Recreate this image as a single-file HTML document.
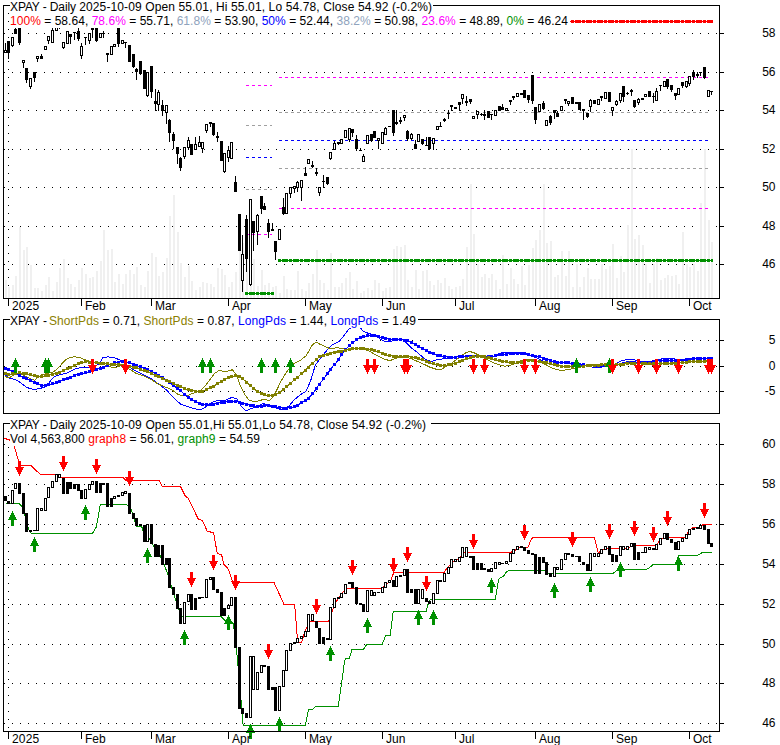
<!DOCTYPE html>
<html lang="en">
<head>
<meta charset="utf-8">
<title>XPAY - Daily</title>
<style>
html,body{margin:0;padding:0;background:#fff;}
body{width:780px;height:745px;overflow:hidden;}
svg{display:block;font-family:"Liberation Sans",Arial,sans-serif;font-size:12px;}
svg rect,svg path,svg polygon{shape-rendering:crispEdges;}
</style>
</head>
<body>
<svg width="780" height="745" viewBox="0 0 780 745">
<rect x="0" y="0" width="780" height="745" fill="#fff"/>
<line x1="4" x2="719" y1="33.5" y2="33.5" stroke="#000" stroke-dasharray="1 7" shape-rendering="crispEdges"/>
<rect x="719" y="33" width="5" height="1" fill="#000"/>
<line x1="4" x2="719" y1="72.5" y2="72.5" stroke="#000" stroke-dasharray="1 7" shape-rendering="crispEdges"/>
<rect x="719" y="72" width="5" height="1" fill="#000"/>
<line x1="4" x2="719" y1="110.5" y2="110.5" stroke="#000" stroke-dasharray="1 7" shape-rendering="crispEdges"/>
<rect x="719" y="110" width="5" height="1" fill="#000"/>
<line x1="4" x2="719" y1="149.5" y2="149.5" stroke="#000" stroke-dasharray="1 7" shape-rendering="crispEdges"/>
<rect x="719" y="149" width="5" height="1" fill="#000"/>
<line x1="4" x2="719" y1="187.5" y2="187.5" stroke="#000" stroke-dasharray="1 7" shape-rendering="crispEdges"/>
<rect x="719" y="187" width="5" height="1" fill="#000"/>
<line x1="4" x2="719" y1="226.5" y2="226.5" stroke="#000" stroke-dasharray="1 7" shape-rendering="crispEdges"/>
<rect x="719" y="226" width="5" height="1" fill="#000"/>
<line x1="4" x2="719" y1="264.5" y2="264.5" stroke="#000" stroke-dasharray="1 7" shape-rendering="crispEdges"/>
<rect x="719" y="264" width="5" height="1" fill="#000"/>
<line x1="8.5" x2="8.5" y1="13" y2="298" stroke="#000" stroke-dasharray="1 7" shape-rendering="crispEdges"/>
<rect x="5" y="280" width="2" height="18" fill="#f0f0f0"/>
<rect x="8" y="287" width="2" height="11" fill="#f0f0f0"/>
<rect x="12" y="285" width="2" height="13" fill="#f0f0f0"/>
<rect x="15" y="276" width="2" height="22" fill="#f0f0f0"/>
<rect x="19" y="227" width="2" height="71" fill="#f0f0f0"/>
<rect x="23" y="250" width="2" height="48" fill="#f0f0f0"/>
<rect x="26" y="247" width="2" height="51" fill="#f0f0f0"/>
<rect x="30" y="265" width="2" height="33" fill="#f0f0f0"/>
<rect x="34" y="288" width="2" height="10" fill="#f0f0f0"/>
<rect x="37" y="288" width="2" height="10" fill="#f0f0f0"/>
<rect x="41" y="291" width="2" height="7" fill="#f0f0f0"/>
<rect x="45" y="285" width="2" height="13" fill="#f0f0f0"/>
<rect x="48" y="277" width="2" height="21" fill="#f0f0f0"/>
<rect x="52" y="291" width="2" height="7" fill="#f0f0f0"/>
<rect x="56" y="282" width="2" height="16" fill="#f0f0f0"/>
<rect x="59" y="268" width="2" height="30" fill="#f0f0f0"/>
<rect x="63" y="259" width="2" height="39" fill="#f0f0f0"/>
<rect x="67" y="278" width="2" height="20" fill="#f0f0f0"/>
<rect x="70" y="284" width="2" height="14" fill="#f0f0f0"/>
<rect x="74" y="287" width="2" height="11" fill="#f0f0f0"/>
<rect x="78" y="280" width="2" height="18" fill="#f0f0f0"/>
<rect x="81" y="268" width="2" height="30" fill="#f0f0f0"/>
<rect x="85" y="274" width="2" height="24" fill="#f0f0f0"/>
<rect x="89" y="278" width="2" height="20" fill="#f0f0f0"/>
<rect x="92" y="277" width="2" height="21" fill="#f0f0f0"/>
<rect x="96" y="271" width="2" height="27" fill="#f0f0f0"/>
<rect x="100" y="261" width="2" height="37" fill="#f0f0f0"/>
<rect x="103" y="230" width="2" height="68" fill="#f0f0f0"/>
<rect x="107" y="250" width="2" height="48" fill="#f0f0f0"/>
<rect x="111" y="249" width="2" height="49" fill="#f0f0f0"/>
<rect x="114" y="282" width="2" height="16" fill="#f0f0f0"/>
<rect x="118" y="274" width="2" height="24" fill="#f0f0f0"/>
<rect x="122" y="284" width="2" height="14" fill="#f0f0f0"/>
<rect x="125" y="274" width="2" height="24" fill="#f0f0f0"/>
<rect x="129" y="270" width="2" height="28" fill="#f0f0f0"/>
<rect x="133" y="274" width="2" height="24" fill="#f0f0f0"/>
<rect x="136" y="267" width="2" height="31" fill="#f0f0f0"/>
<rect x="140" y="285" width="2" height="13" fill="#f0f0f0"/>
<rect x="144" y="287" width="2" height="11" fill="#f0f0f0"/>
<rect x="147" y="271" width="2" height="27" fill="#f0f0f0"/>
<rect x="151" y="253" width="2" height="45" fill="#f0f0f0"/>
<rect x="155" y="257" width="2" height="41" fill="#f0f0f0"/>
<rect x="158" y="276" width="2" height="22" fill="#f0f0f0"/>
<rect x="162" y="272" width="2" height="26" fill="#f0f0f0"/>
<rect x="166" y="258" width="2" height="40" fill="#f0f0f0"/>
<rect x="169" y="216" width="2" height="82" fill="#f0f0f0"/>
<rect x="173" y="195" width="2" height="103" fill="#f0f0f0"/>
<rect x="177" y="232" width="2" height="66" fill="#f0f0f0"/>
<rect x="180" y="263" width="2" height="35" fill="#f0f0f0"/>
<rect x="184" y="277" width="2" height="21" fill="#f0f0f0"/>
<rect x="188" y="266" width="2" height="32" fill="#f0f0f0"/>
<rect x="191" y="281" width="2" height="17" fill="#f0f0f0"/>
<rect x="195" y="290" width="2" height="8" fill="#f0f0f0"/>
<rect x="199" y="287" width="2" height="11" fill="#f0f0f0"/>
<rect x="202" y="282" width="2" height="16" fill="#f0f0f0"/>
<rect x="206" y="283" width="2" height="15" fill="#f0f0f0"/>
<rect x="210" y="284" width="2" height="14" fill="#f0f0f0"/>
<rect x="213" y="287" width="2" height="11" fill="#f0f0f0"/>
<rect x="217" y="268" width="2" height="30" fill="#f0f0f0"/>
<rect x="221" y="269" width="2" height="29" fill="#f0f0f0"/>
<rect x="224" y="275" width="2" height="23" fill="#f0f0f0"/>
<rect x="228" y="287" width="2" height="11" fill="#f0f0f0"/>
<rect x="231" y="282" width="2" height="16" fill="#f0f0f0"/>
<rect x="235" y="272" width="2" height="26" fill="#f0f0f0"/>
<rect x="239" y="251" width="2" height="47" fill="#f0f0f0"/>
<rect x="242" y="243" width="2" height="55" fill="#f0f0f0"/>
<rect x="246" y="238" width="2" height="60" fill="#f0f0f0"/>
<rect x="250" y="247" width="2" height="51" fill="#f0f0f0"/>
<rect x="253" y="259" width="2" height="39" fill="#f0f0f0"/>
<rect x="257" y="286" width="2" height="12" fill="#f0f0f0"/>
<rect x="261" y="270" width="2" height="28" fill="#f0f0f0"/>
<rect x="264" y="285" width="2" height="13" fill="#f0f0f0"/>
<rect x="268" y="283" width="2" height="15" fill="#f0f0f0"/>
<rect x="272" y="287" width="2" height="11" fill="#f0f0f0"/>
<rect x="275" y="286" width="2" height="12" fill="#f0f0f0"/>
<rect x="279" y="293" width="2" height="5" fill="#f0f0f0"/>
<rect x="283" y="276" width="2" height="22" fill="#f0f0f0"/>
<rect x="286" y="289" width="2" height="9" fill="#f0f0f0"/>
<rect x="290" y="290" width="2" height="8" fill="#f0f0f0"/>
<rect x="294" y="290" width="2" height="8" fill="#f0f0f0"/>
<rect x="297" y="271" width="2" height="27" fill="#f0f0f0"/>
<rect x="301" y="289" width="2" height="9" fill="#f0f0f0"/>
<rect x="305" y="291" width="2" height="7" fill="#f0f0f0"/>
<rect x="308" y="283" width="2" height="15" fill="#f0f0f0"/>
<rect x="312" y="274" width="2" height="24" fill="#f0f0f0"/>
<rect x="316" y="250" width="2" height="48" fill="#f0f0f0"/>
<rect x="319" y="280" width="2" height="18" fill="#f0f0f0"/>
<rect x="323" y="283" width="2" height="15" fill="#f0f0f0"/>
<rect x="327" y="290" width="2" height="8" fill="#f0f0f0"/>
<rect x="330" y="253" width="2" height="45" fill="#f0f0f0"/>
<rect x="334" y="287" width="2" height="11" fill="#f0f0f0"/>
<rect x="338" y="287" width="2" height="11" fill="#f0f0f0"/>
<rect x="341" y="283" width="2" height="15" fill="#f0f0f0"/>
<rect x="345" y="278" width="2" height="20" fill="#f0f0f0"/>
<rect x="349" y="272" width="2" height="26" fill="#f0f0f0"/>
<rect x="352" y="289" width="2" height="9" fill="#f0f0f0"/>
<rect x="356" y="281" width="2" height="17" fill="#f0f0f0"/>
<rect x="360" y="293" width="2" height="5" fill="#f0f0f0"/>
<rect x="363" y="291" width="2" height="7" fill="#f0f0f0"/>
<rect x="367" y="288" width="2" height="10" fill="#f0f0f0"/>
<rect x="371" y="290" width="2" height="8" fill="#f0f0f0"/>
<rect x="374" y="280" width="2" height="18" fill="#f0f0f0"/>
<rect x="378" y="283" width="2" height="15" fill="#f0f0f0"/>
<rect x="382" y="291" width="2" height="7" fill="#f0f0f0"/>
<rect x="385" y="288" width="2" height="10" fill="#f0f0f0"/>
<rect x="389" y="287" width="2" height="11" fill="#f0f0f0"/>
<rect x="393" y="249" width="2" height="49" fill="#f0f0f0"/>
<rect x="396" y="246" width="2" height="52" fill="#f0f0f0"/>
<rect x="400" y="247" width="2" height="51" fill="#f0f0f0"/>
<rect x="404" y="245" width="2" height="53" fill="#f0f0f0"/>
<rect x="407" y="280" width="2" height="18" fill="#f0f0f0"/>
<rect x="411" y="287" width="2" height="11" fill="#f0f0f0"/>
<rect x="415" y="270" width="2" height="28" fill="#f0f0f0"/>
<rect x="418" y="289" width="2" height="9" fill="#f0f0f0"/>
<rect x="422" y="271" width="2" height="27" fill="#f0f0f0"/>
<rect x="426" y="270" width="2" height="28" fill="#f0f0f0"/>
<rect x="429" y="281" width="2" height="17" fill="#f0f0f0"/>
<rect x="433" y="285" width="2" height="13" fill="#f0f0f0"/>
<rect x="437" y="280" width="2" height="18" fill="#f0f0f0"/>
<rect x="440" y="283" width="2" height="15" fill="#f0f0f0"/>
<rect x="444" y="278" width="2" height="20" fill="#f0f0f0"/>
<rect x="448" y="286" width="2" height="12" fill="#f0f0f0"/>
<rect x="451" y="289" width="2" height="9" fill="#f0f0f0"/>
<rect x="455" y="287" width="2" height="11" fill="#f0f0f0"/>
<rect x="459" y="286" width="2" height="12" fill="#f0f0f0"/>
<rect x="462" y="279" width="2" height="19" fill="#f0f0f0"/>
<rect x="466" y="247" width="2" height="51" fill="#f0f0f0"/>
<rect x="470" y="184" width="2" height="114" fill="#f0f0f0"/>
<rect x="473" y="234" width="2" height="64" fill="#f0f0f0"/>
<rect x="477" y="264" width="2" height="34" fill="#f0f0f0"/>
<rect x="481" y="277" width="2" height="21" fill="#f0f0f0"/>
<rect x="484" y="274" width="2" height="24" fill="#f0f0f0"/>
<rect x="488" y="278" width="2" height="20" fill="#f0f0f0"/>
<rect x="491" y="274" width="2" height="24" fill="#f0f0f0"/>
<rect x="495" y="280" width="2" height="18" fill="#f0f0f0"/>
<rect x="499" y="289" width="2" height="9" fill="#f0f0f0"/>
<rect x="502" y="255" width="2" height="43" fill="#f0f0f0"/>
<rect x="506" y="284" width="2" height="14" fill="#f0f0f0"/>
<rect x="510" y="268" width="2" height="30" fill="#f0f0f0"/>
<rect x="513" y="279" width="2" height="19" fill="#f0f0f0"/>
<rect x="517" y="284" width="2" height="14" fill="#f0f0f0"/>
<rect x="521" y="266" width="2" height="32" fill="#f0f0f0"/>
<rect x="524" y="285" width="2" height="13" fill="#f0f0f0"/>
<rect x="528" y="265" width="2" height="33" fill="#f0f0f0"/>
<rect x="532" y="248" width="2" height="50" fill="#f0f0f0"/>
<rect x="535" y="240" width="2" height="58" fill="#f0f0f0"/>
<rect x="539" y="230" width="2" height="68" fill="#f0f0f0"/>
<rect x="543" y="184" width="2" height="114" fill="#f0f0f0"/>
<rect x="546" y="243" width="2" height="55" fill="#f0f0f0"/>
<rect x="550" y="241" width="2" height="57" fill="#f0f0f0"/>
<rect x="554" y="277" width="2" height="21" fill="#f0f0f0"/>
<rect x="557" y="275" width="2" height="23" fill="#f0f0f0"/>
<rect x="561" y="251" width="2" height="47" fill="#f0f0f0"/>
<rect x="565" y="276" width="2" height="22" fill="#f0f0f0"/>
<rect x="568" y="251" width="2" height="47" fill="#f0f0f0"/>
<rect x="572" y="287" width="2" height="11" fill="#f0f0f0"/>
<rect x="576" y="264" width="2" height="34" fill="#f0f0f0"/>
<rect x="579" y="287" width="2" height="11" fill="#f0f0f0"/>
<rect x="583" y="277" width="2" height="21" fill="#f0f0f0"/>
<rect x="587" y="268" width="2" height="30" fill="#f0f0f0"/>
<rect x="590" y="279" width="2" height="19" fill="#f0f0f0"/>
<rect x="594" y="279" width="2" height="19" fill="#f0f0f0"/>
<rect x="598" y="279" width="2" height="19" fill="#f0f0f0"/>
<rect x="601" y="264" width="2" height="34" fill="#f0f0f0"/>
<rect x="605" y="269" width="2" height="29" fill="#f0f0f0"/>
<rect x="609" y="266" width="2" height="32" fill="#f0f0f0"/>
<rect x="612" y="244" width="2" height="54" fill="#f0f0f0"/>
<rect x="616" y="278" width="2" height="20" fill="#f0f0f0"/>
<rect x="620" y="256" width="2" height="42" fill="#f0f0f0"/>
<rect x="623" y="272" width="2" height="26" fill="#f0f0f0"/>
<rect x="627" y="225" width="2" height="73" fill="#f0f0f0"/>
<rect x="631" y="149" width="2" height="149" fill="#f0f0f0"/>
<rect x="634" y="239" width="2" height="59" fill="#f0f0f0"/>
<rect x="638" y="235" width="2" height="63" fill="#f0f0f0"/>
<rect x="642" y="245" width="2" height="53" fill="#f0f0f0"/>
<rect x="645" y="264" width="2" height="34" fill="#f0f0f0"/>
<rect x="649" y="283" width="2" height="15" fill="#f0f0f0"/>
<rect x="653" y="264" width="2" height="34" fill="#f0f0f0"/>
<rect x="656" y="258" width="2" height="40" fill="#f0f0f0"/>
<rect x="660" y="280" width="2" height="18" fill="#f0f0f0"/>
<rect x="664" y="278" width="2" height="20" fill="#f0f0f0"/>
<rect x="667" y="275" width="2" height="23" fill="#f0f0f0"/>
<rect x="671" y="276" width="2" height="22" fill="#f0f0f0"/>
<rect x="675" y="275" width="2" height="23" fill="#f0f0f0"/>
<rect x="678" y="284" width="2" height="14" fill="#f0f0f0"/>
<rect x="682" y="232" width="2" height="66" fill="#f0f0f0"/>
<rect x="686" y="264" width="2" height="34" fill="#f0f0f0"/>
<rect x="689" y="267" width="2" height="31" fill="#f0f0f0"/>
<rect x="693" y="264" width="2" height="34" fill="#f0f0f0"/>
<rect x="697" y="271" width="2" height="27" fill="#f0f0f0"/>
<rect x="700" y="203" width="2" height="95" fill="#f0f0f0"/>
<rect x="704" y="149" width="2" height="149" fill="#f0f0f0"/>
<rect x="708" y="220" width="2" height="78" fill="#f0f0f0"/>
<rect x="711" y="242" width="2" height="56" fill="#f0f0f0"/>
<line x1="279" x2="709" y1="77.5" y2="77.5" stroke="#ff00ff" stroke-dasharray="3 3" shape-rendering="crispEdges"/>
<line x1="279" x2="709" y1="112.5" y2="112.5" stroke="#a0a0a0" stroke-dasharray="3 3" shape-rendering="crispEdges"/>
<line x1="279" x2="709" y1="140.5" y2="140.5" stroke="#0000ff" stroke-dasharray="3 3" shape-rendering="crispEdges"/>
<line x1="279" x2="709" y1="168.5" y2="168.5" stroke="#a0a0a0" stroke-dasharray="3 3" shape-rendering="crispEdges"/>
<line x1="279" x2="709" y1="208.5" y2="208.5" stroke="#ff00ff" stroke-dasharray="3 3" shape-rendering="crispEdges"/>
<rect x="278" y="260" width="435" height="1" fill="#009000"/>
<rect x="278" y="259" width="3" height="3" fill="#009000"/>
<rect x="282" y="259" width="6" height="3" fill="#009000"/>
<rect x="289" y="259" width="3" height="3" fill="#009000"/>
<rect x="293" y="259" width="6" height="3" fill="#009000"/>
<rect x="300" y="259" width="3" height="3" fill="#009000"/>
<rect x="304" y="259" width="6" height="3" fill="#009000"/>
<rect x="311" y="259" width="3" height="3" fill="#009000"/>
<rect x="315" y="259" width="6" height="3" fill="#009000"/>
<rect x="322" y="259" width="3" height="3" fill="#009000"/>
<rect x="326" y="259" width="6" height="3" fill="#009000"/>
<rect x="333" y="259" width="3" height="3" fill="#009000"/>
<rect x="337" y="259" width="6" height="3" fill="#009000"/>
<rect x="344" y="259" width="3" height="3" fill="#009000"/>
<rect x="348" y="259" width="6" height="3" fill="#009000"/>
<rect x="355" y="259" width="3" height="3" fill="#009000"/>
<rect x="359" y="259" width="6" height="3" fill="#009000"/>
<rect x="366" y="259" width="3" height="3" fill="#009000"/>
<rect x="370" y="259" width="6" height="3" fill="#009000"/>
<rect x="377" y="259" width="3" height="3" fill="#009000"/>
<rect x="381" y="259" width="6" height="3" fill="#009000"/>
<rect x="388" y="259" width="3" height="3" fill="#009000"/>
<rect x="392" y="259" width="6" height="3" fill="#009000"/>
<rect x="399" y="259" width="3" height="3" fill="#009000"/>
<rect x="403" y="259" width="6" height="3" fill="#009000"/>
<rect x="410" y="259" width="3" height="3" fill="#009000"/>
<rect x="414" y="259" width="6" height="3" fill="#009000"/>
<rect x="421" y="259" width="3" height="3" fill="#009000"/>
<rect x="425" y="259" width="6" height="3" fill="#009000"/>
<rect x="432" y="259" width="3" height="3" fill="#009000"/>
<rect x="436" y="259" width="6" height="3" fill="#009000"/>
<rect x="443" y="259" width="3" height="3" fill="#009000"/>
<rect x="447" y="259" width="6" height="3" fill="#009000"/>
<rect x="454" y="259" width="3" height="3" fill="#009000"/>
<rect x="458" y="259" width="6" height="3" fill="#009000"/>
<rect x="465" y="259" width="3" height="3" fill="#009000"/>
<rect x="469" y="259" width="6" height="3" fill="#009000"/>
<rect x="476" y="259" width="3" height="3" fill="#009000"/>
<rect x="480" y="259" width="6" height="3" fill="#009000"/>
<rect x="487" y="259" width="3" height="3" fill="#009000"/>
<rect x="491" y="259" width="6" height="3" fill="#009000"/>
<rect x="498" y="259" width="3" height="3" fill="#009000"/>
<rect x="502" y="259" width="6" height="3" fill="#009000"/>
<rect x="509" y="259" width="3" height="3" fill="#009000"/>
<rect x="513" y="259" width="6" height="3" fill="#009000"/>
<rect x="520" y="259" width="3" height="3" fill="#009000"/>
<rect x="524" y="259" width="6" height="3" fill="#009000"/>
<rect x="531" y="259" width="3" height="3" fill="#009000"/>
<rect x="535" y="259" width="6" height="3" fill="#009000"/>
<rect x="542" y="259" width="3" height="3" fill="#009000"/>
<rect x="546" y="259" width="6" height="3" fill="#009000"/>
<rect x="553" y="259" width="3" height="3" fill="#009000"/>
<rect x="557" y="259" width="6" height="3" fill="#009000"/>
<rect x="564" y="259" width="3" height="3" fill="#009000"/>
<rect x="568" y="259" width="6" height="3" fill="#009000"/>
<rect x="575" y="259" width="3" height="3" fill="#009000"/>
<rect x="579" y="259" width="6" height="3" fill="#009000"/>
<rect x="586" y="259" width="3" height="3" fill="#009000"/>
<rect x="590" y="259" width="6" height="3" fill="#009000"/>
<rect x="597" y="259" width="3" height="3" fill="#009000"/>
<rect x="601" y="259" width="6" height="3" fill="#009000"/>
<rect x="608" y="259" width="3" height="3" fill="#009000"/>
<rect x="612" y="259" width="6" height="3" fill="#009000"/>
<rect x="619" y="259" width="3" height="3" fill="#009000"/>
<rect x="623" y="259" width="6" height="3" fill="#009000"/>
<rect x="630" y="259" width="3" height="3" fill="#009000"/>
<rect x="634" y="259" width="6" height="3" fill="#009000"/>
<rect x="641" y="259" width="3" height="3" fill="#009000"/>
<rect x="645" y="259" width="6" height="3" fill="#009000"/>
<rect x="652" y="259" width="3" height="3" fill="#009000"/>
<rect x="656" y="259" width="6" height="3" fill="#009000"/>
<rect x="663" y="259" width="3" height="3" fill="#009000"/>
<rect x="667" y="259" width="6" height="3" fill="#009000"/>
<rect x="674" y="259" width="3" height="3" fill="#009000"/>
<rect x="678" y="259" width="6" height="3" fill="#009000"/>
<rect x="685" y="259" width="3" height="3" fill="#009000"/>
<rect x="689" y="259" width="6" height="3" fill="#009000"/>
<rect x="696" y="259" width="3" height="3" fill="#009000"/>
<rect x="700" y="259" width="6" height="3" fill="#009000"/>
<rect x="707" y="259" width="3" height="3" fill="#009000"/>
<rect x="711" y="259" width="2" height="3" fill="#009000"/>
<line x1="246" x2="272" y1="85.5" y2="85.5" stroke="#ff00ff" stroke-dasharray="3 3" shape-rendering="crispEdges"/>
<line x1="246" x2="272" y1="125.5" y2="125.5" stroke="#a0a0a0" stroke-dasharray="3 3" shape-rendering="crispEdges"/>
<line x1="246" x2="272" y1="157.5" y2="157.5" stroke="#0000ff" stroke-dasharray="3 3" shape-rendering="crispEdges"/>
<line x1="246" x2="272" y1="189.5" y2="189.5" stroke="#a0a0a0" stroke-dasharray="3 3" shape-rendering="crispEdges"/>
<line x1="246" x2="272" y1="234.5" y2="234.5" stroke="#ff00ff" stroke-dasharray="3 3" shape-rendering="crispEdges"/>
<rect x="245" y="293" width="29" height="1" fill="#009000"/>
<rect x="245" y="292" width="3" height="3" fill="#009000"/>
<rect x="249" y="292" width="6" height="3" fill="#009000"/>
<rect x="256" y="292" width="3" height="3" fill="#009000"/>
<rect x="260" y="292" width="6" height="3" fill="#009000"/>
<rect x="267" y="292" width="3" height="3" fill="#009000"/>
<rect x="271" y="292" width="3" height="3" fill="#009000"/>
<rect x="5" y="43" width="1" height="7" fill="#000"/>
<rect x="4" y="50" width="3" height="3" fill="#000"/>
<rect x="5" y="51" width="1" height="1" fill="#fff"/>
<rect x="8" y="53" width="1" height="6" fill="#000"/>
<rect x="7" y="41" width="3" height="12" fill="#000"/>
<rect x="12" y="46" width="1" height="1" fill="#000"/>
<rect x="11" y="37" width="3" height="9" fill="#000"/>
<rect x="12" y="38" width="1" height="7" fill="#fff"/>
<rect x="15" y="28" width="1" height="1" fill="#000"/>
<rect x="14" y="29" width="3" height="5" fill="#000"/>
<rect x="19" y="43" width="1" height="2" fill="#000"/>
<rect x="18" y="28" width="3" height="15" fill="#000"/>
<rect x="23" y="63" width="1" height="5" fill="#000"/>
<rect x="22" y="60" width="3" height="3" fill="#000"/>
<rect x="23" y="61" width="1" height="1" fill="#fff"/>
<rect x="26" y="80" width="1" height="3" fill="#000"/>
<rect x="25" y="68" width="3" height="12" fill="#000"/>
<rect x="30" y="87" width="1" height="2" fill="#000"/>
<rect x="29" y="78" width="3" height="9" fill="#000"/>
<rect x="30" y="79" width="1" height="7" fill="#fff"/>
<rect x="34" y="78" width="1" height="4" fill="#000"/>
<rect x="33" y="72" width="3" height="6" fill="#000"/>
<rect x="37" y="59" width="1" height="3" fill="#000"/>
<rect x="36" y="56" width="3" height="3" fill="#000"/>
<rect x="37" y="57" width="1" height="1" fill="#fff"/>
<rect x="41" y="54" width="1" height="2" fill="#000"/>
<rect x="40" y="56" width="3" height="3" fill="#000"/>
<rect x="44" y="46" width="3" height="4" fill="#000"/>
<rect x="45" y="47" width="1" height="2" fill="#fff"/>
<rect x="48" y="41" width="1" height="3" fill="#000"/>
<rect x="47" y="36" width="3" height="5" fill="#000"/>
<rect x="48" y="37" width="1" height="3" fill="#fff"/>
<rect x="52" y="28" width="1" height="2" fill="#000"/>
<rect x="51" y="30" width="3" height="13" fill="#000"/>
<rect x="52" y="31" width="1" height="11" fill="#fff"/>
<rect x="55" y="24" width="3" height="7" fill="#000"/>
<rect x="56" y="25" width="1" height="5" fill="#fff"/>
<rect x="59" y="28" width="1" height="1" fill="#000"/>
<rect x="58" y="24" width="3" height="4" fill="#000"/>
<rect x="59" y="25" width="1" height="2" fill="#fff"/>
<rect x="63" y="48" width="1" height="1" fill="#000"/>
<rect x="62" y="42" width="3" height="6" fill="#000"/>
<rect x="63" y="43" width="1" height="4" fill="#fff"/>
<rect x="66" y="31" width="3" height="13" fill="#000"/>
<rect x="67" y="32" width="1" height="11" fill="#fff"/>
<rect x="70" y="37" width="1" height="7" fill="#000"/>
<rect x="69" y="34" width="3" height="3" fill="#000"/>
<rect x="74" y="33" width="1" height="7" fill="#000"/>
<rect x="73" y="32" width="3" height="1" fill="#000"/>
<rect x="78" y="28" width="1" height="3" fill="#000"/>
<rect x="78" y="39" width="1" height="2" fill="#000"/>
<rect x="77" y="31" width="3" height="8" fill="#000"/>
<rect x="81" y="43" width="1" height="3" fill="#000"/>
<rect x="81" y="56" width="1" height="3" fill="#000"/>
<rect x="80" y="46" width="3" height="10" fill="#000"/>
<rect x="81" y="47" width="1" height="8" fill="#fff"/>
<rect x="85" y="38" width="1" height="7" fill="#000"/>
<rect x="84" y="37" width="3" height="1" fill="#000"/>
<rect x="89" y="41" width="1" height="3" fill="#000"/>
<rect x="88" y="33" width="3" height="8" fill="#000"/>
<rect x="89" y="34" width="1" height="6" fill="#fff"/>
<rect x="92" y="30" width="1" height="8" fill="#000"/>
<rect x="91" y="28" width="3" height="2" fill="#000"/>
<rect x="96" y="41" width="1" height="1" fill="#000"/>
<rect x="95" y="28" width="3" height="13" fill="#000"/>
<rect x="99" y="33" width="3" height="5" fill="#000"/>
<rect x="100" y="34" width="1" height="3" fill="#fff"/>
<rect x="103" y="31" width="1" height="2" fill="#000"/>
<rect x="103" y="34" width="1" height="4" fill="#000"/>
<rect x="102" y="33" width="3" height="1" fill="#000"/>
<rect x="107" y="55" width="1" height="7" fill="#000"/>
<rect x="106" y="53" width="3" height="2" fill="#000"/>
<rect x="110" y="46" width="3" height="9" fill="#000"/>
<rect x="111" y="47" width="1" height="7" fill="#fff"/>
<rect x="113" y="44" width="3" height="3" fill="#000"/>
<rect x="114" y="45" width="1" height="1" fill="#fff"/>
<rect x="118" y="44" width="1" height="3" fill="#000"/>
<rect x="117" y="28" width="3" height="16" fill="#000"/>
<rect x="121" y="40" width="3" height="4" fill="#000"/>
<rect x="122" y="41" width="1" height="2" fill="#fff"/>
<rect x="125" y="43" width="1" height="5" fill="#000"/>
<rect x="124" y="42" width="3" height="1" fill="#000"/>
<rect x="128" y="45" width="3" height="17" fill="#000"/>
<rect x="133" y="67" width="1" height="1" fill="#000"/>
<rect x="132" y="54" width="3" height="13" fill="#000"/>
<rect x="136" y="68" width="1" height="1" fill="#000"/>
<rect x="136" y="72" width="1" height="8" fill="#000"/>
<rect x="135" y="69" width="3" height="3" fill="#000"/>
<rect x="140" y="74" width="1" height="1" fill="#000"/>
<rect x="139" y="61" width="3" height="13" fill="#000"/>
<rect x="143" y="70" width="3" height="19" fill="#000"/>
<rect x="147" y="96" width="1" height="1" fill="#000"/>
<rect x="146" y="72" width="3" height="24" fill="#000"/>
<rect x="147" y="73" width="1" height="22" fill="#fff"/>
<rect x="151" y="92" width="1" height="6" fill="#000"/>
<rect x="150" y="66" width="3" height="26" fill="#000"/>
<rect x="155" y="89" width="1" height="12" fill="#000"/>
<rect x="155" y="104" width="1" height="7" fill="#000"/>
<rect x="154" y="101" width="3" height="3" fill="#000"/>
<rect x="158" y="90" width="1" height="2" fill="#000"/>
<rect x="158" y="105" width="1" height="6" fill="#000"/>
<rect x="157" y="92" width="3" height="13" fill="#000"/>
<rect x="158" y="93" width="1" height="11" fill="#fff"/>
<rect x="162" y="100" width="1" height="5" fill="#000"/>
<rect x="162" y="111" width="1" height="5" fill="#000"/>
<rect x="161" y="105" width="3" height="6" fill="#000"/>
<rect x="166" y="113" width="1" height="11" fill="#000"/>
<rect x="165" y="105" width="3" height="8" fill="#000"/>
<rect x="166" y="106" width="1" height="6" fill="#fff"/>
<rect x="169" y="119" width="1" height="1" fill="#000"/>
<rect x="169" y="133" width="1" height="9" fill="#000"/>
<rect x="168" y="120" width="3" height="13" fill="#000"/>
<rect x="173" y="132" width="1" height="2" fill="#000"/>
<rect x="173" y="141" width="1" height="8" fill="#000"/>
<rect x="172" y="134" width="3" height="7" fill="#000"/>
<rect x="177" y="154" width="1" height="10" fill="#000"/>
<rect x="176" y="147" width="3" height="7" fill="#000"/>
<rect x="180" y="157" width="1" height="1" fill="#000"/>
<rect x="180" y="168" width="1" height="3" fill="#000"/>
<rect x="179" y="158" width="3" height="10" fill="#000"/>
<rect x="184" y="157" width="1" height="2" fill="#000"/>
<rect x="183" y="147" width="3" height="10" fill="#000"/>
<rect x="184" y="148" width="1" height="8" fill="#fff"/>
<rect x="188" y="137" width="1" height="3" fill="#000"/>
<rect x="188" y="148" width="1" height="2" fill="#000"/>
<rect x="187" y="140" width="3" height="8" fill="#000"/>
<rect x="188" y="141" width="1" height="6" fill="#fff"/>
<rect x="190" y="144" width="3" height="11" fill="#000"/>
<rect x="195" y="137" width="1" height="7" fill="#000"/>
<rect x="194" y="144" width="3" height="6" fill="#000"/>
<rect x="195" y="145" width="1" height="4" fill="#fff"/>
<rect x="199" y="136" width="1" height="6" fill="#000"/>
<rect x="198" y="142" width="3" height="5" fill="#000"/>
<rect x="199" y="143" width="1" height="3" fill="#fff"/>
<rect x="202" y="149" width="1" height="4" fill="#000"/>
<rect x="201" y="142" width="3" height="7" fill="#000"/>
<rect x="202" y="143" width="1" height="5" fill="#fff"/>
<rect x="206" y="131" width="1" height="2" fill="#000"/>
<rect x="205" y="124" width="3" height="7" fill="#000"/>
<rect x="206" y="125" width="1" height="5" fill="#fff"/>
<rect x="210" y="124" width="1" height="3" fill="#000"/>
<rect x="209" y="122" width="3" height="2" fill="#000"/>
<rect x="213" y="135" width="1" height="1" fill="#000"/>
<rect x="212" y="123" width="3" height="12" fill="#000"/>
<rect x="217" y="132" width="1" height="4" fill="#000"/>
<rect x="217" y="138" width="1" height="4" fill="#000"/>
<rect x="216" y="136" width="3" height="2" fill="#000"/>
<rect x="220" y="141" width="3" height="20" fill="#000"/>
<rect x="224" y="172" width="1" height="1" fill="#000"/>
<rect x="223" y="153" width="3" height="19" fill="#000"/>
<rect x="224" y="154" width="1" height="17" fill="#fff"/>
<rect x="228" y="146" width="1" height="4" fill="#000"/>
<rect x="228" y="158" width="1" height="4" fill="#000"/>
<rect x="227" y="150" width="3" height="8" fill="#000"/>
<rect x="228" y="151" width="1" height="6" fill="#fff"/>
<rect x="230" y="142" width="3" height="17" fill="#000"/>
<rect x="231" y="143" width="1" height="15" fill="#fff"/>
<rect x="235" y="176" width="1" height="6" fill="#000"/>
<rect x="234" y="182" width="3" height="10" fill="#000"/>
<rect x="238" y="214" width="3" height="37" fill="#000"/>
<rect x="242" y="235" width="1" height="19" fill="#000"/>
<rect x="242" y="281" width="1" height="11" fill="#000"/>
<rect x="241" y="254" width="3" height="27" fill="#000"/>
<rect x="242" y="255" width="1" height="25" fill="#fff"/>
<rect x="246" y="215" width="1" height="4" fill="#000"/>
<rect x="246" y="259" width="1" height="13" fill="#000"/>
<rect x="245" y="219" width="3" height="40" fill="#000"/>
<rect x="250" y="285" width="1" height="1" fill="#000"/>
<rect x="249" y="199" width="3" height="86" fill="#000"/>
<rect x="250" y="200" width="1" height="84" fill="#fff"/>
<rect x="253" y="233" width="1" height="18" fill="#000"/>
<rect x="252" y="221" width="3" height="12" fill="#000"/>
<rect x="257" y="214" width="1" height="1" fill="#000"/>
<rect x="257" y="232" width="1" height="13" fill="#000"/>
<rect x="256" y="215" width="3" height="17" fill="#000"/>
<rect x="257" y="216" width="1" height="15" fill="#fff"/>
<rect x="261" y="209" width="1" height="5" fill="#000"/>
<rect x="260" y="196" width="3" height="13" fill="#000"/>
<rect x="264" y="203" width="1" height="3" fill="#000"/>
<rect x="263" y="206" width="3" height="4" fill="#000"/>
<rect x="268" y="219" width="1" height="4" fill="#000"/>
<rect x="268" y="232" width="1" height="6" fill="#000"/>
<rect x="267" y="223" width="3" height="9" fill="#000"/>
<rect x="272" y="223" width="1" height="6" fill="#000"/>
<rect x="271" y="229" width="3" height="2" fill="#000"/>
<rect x="275" y="252" width="1" height="8" fill="#000"/>
<rect x="274" y="241" width="3" height="11" fill="#000"/>
<rect x="278" y="229" width="3" height="11" fill="#000"/>
<rect x="279" y="230" width="1" height="9" fill="#fff"/>
<rect x="283" y="198" width="1" height="9" fill="#000"/>
<rect x="283" y="214" width="1" height="1" fill="#000"/>
<rect x="282" y="207" width="3" height="7" fill="#000"/>
<rect x="285" y="193" width="3" height="21" fill="#000"/>
<rect x="286" y="194" width="1" height="19" fill="#fff"/>
<rect x="290" y="194" width="1" height="4" fill="#000"/>
<rect x="289" y="187" width="3" height="7" fill="#000"/>
<rect x="290" y="188" width="1" height="5" fill="#fff"/>
<rect x="294" y="189" width="1" height="4" fill="#000"/>
<rect x="293" y="186" width="3" height="3" fill="#000"/>
<rect x="294" y="187" width="1" height="1" fill="#fff"/>
<rect x="297" y="181" width="1" height="1" fill="#000"/>
<rect x="297" y="188" width="1" height="4" fill="#000"/>
<rect x="296" y="182" width="3" height="6" fill="#000"/>
<rect x="297" y="183" width="1" height="4" fill="#fff"/>
<rect x="301" y="188" width="1" height="13" fill="#000"/>
<rect x="300" y="180" width="3" height="8" fill="#000"/>
<rect x="301" y="181" width="1" height="6" fill="#fff"/>
<rect x="305" y="167" width="1" height="6" fill="#000"/>
<rect x="304" y="173" width="3" height="3" fill="#000"/>
<rect x="307" y="159" width="3" height="5" fill="#000"/>
<rect x="308" y="160" width="1" height="3" fill="#fff"/>
<rect x="312" y="161" width="1" height="4" fill="#000"/>
<rect x="312" y="167" width="1" height="1" fill="#000"/>
<rect x="311" y="165" width="3" height="2" fill="#000"/>
<rect x="316" y="168" width="1" height="4" fill="#000"/>
<rect x="316" y="174" width="1" height="2" fill="#000"/>
<rect x="315" y="172" width="3" height="2" fill="#000"/>
<rect x="319" y="193" width="1" height="3" fill="#000"/>
<rect x="318" y="187" width="3" height="6" fill="#000"/>
<rect x="319" y="188" width="1" height="4" fill="#fff"/>
<rect x="323" y="175" width="1" height="6" fill="#000"/>
<rect x="323" y="182" width="1" height="6" fill="#000"/>
<rect x="322" y="181" width="3" height="1" fill="#000"/>
<rect x="327" y="184" width="1" height="1" fill="#000"/>
<rect x="326" y="177" width="3" height="7" fill="#000"/>
<rect x="330" y="159" width="1" height="1" fill="#000"/>
<rect x="329" y="152" width="3" height="7" fill="#000"/>
<rect x="330" y="153" width="1" height="5" fill="#fff"/>
<rect x="334" y="141" width="1" height="2" fill="#000"/>
<rect x="333" y="143" width="3" height="7" fill="#000"/>
<rect x="334" y="144" width="1" height="5" fill="#fff"/>
<rect x="338" y="144" width="1" height="1" fill="#000"/>
<rect x="337" y="142" width="3" height="2" fill="#000"/>
<rect x="340" y="139" width="3" height="5" fill="#000"/>
<rect x="341" y="140" width="1" height="3" fill="#fff"/>
<rect x="344" y="130" width="3" height="8" fill="#000"/>
<rect x="345" y="131" width="1" height="6" fill="#fff"/>
<rect x="349" y="140" width="1" height="2" fill="#000"/>
<rect x="348" y="128" width="3" height="12" fill="#000"/>
<rect x="349" y="129" width="1" height="10" fill="#fff"/>
<rect x="352" y="133" width="1" height="4" fill="#000"/>
<rect x="351" y="129" width="3" height="4" fill="#000"/>
<rect x="356" y="135" width="1" height="4" fill="#000"/>
<rect x="356" y="149" width="1" height="2" fill="#000"/>
<rect x="355" y="139" width="3" height="10" fill="#000"/>
<rect x="360" y="148" width="1" height="2" fill="#000"/>
<rect x="359" y="150" width="3" height="1" fill="#000"/>
<rect x="363" y="154" width="1" height="2" fill="#000"/>
<rect x="362" y="156" width="3" height="6" fill="#000"/>
<rect x="363" y="157" width="1" height="4" fill="#fff"/>
<rect x="366" y="135" width="3" height="9" fill="#000"/>
<rect x="367" y="136" width="1" height="7" fill="#fff"/>
<rect x="371" y="141" width="1" height="1" fill="#000"/>
<rect x="370" y="134" width="3" height="7" fill="#000"/>
<rect x="373" y="131" width="3" height="7" fill="#000"/>
<rect x="378" y="141" width="1" height="8" fill="#000"/>
<rect x="377" y="138" width="3" height="3" fill="#000"/>
<rect x="378" y="139" width="1" height="1" fill="#fff"/>
<rect x="381" y="132" width="3" height="12" fill="#000"/>
<rect x="382" y="133" width="1" height="10" fill="#fff"/>
<rect x="385" y="127" width="1" height="1" fill="#000"/>
<rect x="384" y="128" width="3" height="7" fill="#000"/>
<rect x="385" y="129" width="1" height="5" fill="#fff"/>
<rect x="388" y="126" width="3" height="1" fill="#000"/>
<rect x="393" y="133" width="1" height="3" fill="#000"/>
<rect x="392" y="110" width="3" height="23" fill="#000"/>
<rect x="396" y="110" width="1" height="12" fill="#000"/>
<rect x="396" y="124" width="1" height="1" fill="#000"/>
<rect x="395" y="122" width="3" height="2" fill="#000"/>
<rect x="400" y="117" width="1" height="3" fill="#000"/>
<rect x="400" y="122" width="1" height="2" fill="#000"/>
<rect x="399" y="120" width="3" height="2" fill="#000"/>
<rect x="404" y="118" width="1" height="3" fill="#000"/>
<rect x="403" y="115" width="3" height="3" fill="#000"/>
<rect x="404" y="116" width="1" height="1" fill="#fff"/>
<rect x="407" y="130" width="1" height="1" fill="#000"/>
<rect x="407" y="139" width="1" height="2" fill="#000"/>
<rect x="406" y="131" width="3" height="8" fill="#000"/>
<rect x="411" y="133" width="1" height="1" fill="#000"/>
<rect x="411" y="139" width="1" height="1" fill="#000"/>
<rect x="410" y="134" width="3" height="5" fill="#000"/>
<rect x="411" y="135" width="1" height="3" fill="#fff"/>
<rect x="415" y="140" width="1" height="4" fill="#000"/>
<rect x="414" y="144" width="3" height="5" fill="#000"/>
<rect x="417" y="134" width="3" height="8" fill="#000"/>
<rect x="418" y="135" width="1" height="6" fill="#fff"/>
<rect x="422" y="144" width="1" height="1" fill="#000"/>
<rect x="421" y="139" width="3" height="5" fill="#000"/>
<rect x="426" y="137" width="1" height="8" fill="#000"/>
<rect x="425" y="145" width="3" height="1" fill="#000"/>
<rect x="429" y="149" width="1" height="1" fill="#000"/>
<rect x="428" y="137" width="3" height="12" fill="#000"/>
<rect x="433" y="144" width="1" height="6" fill="#000"/>
<rect x="432" y="138" width="3" height="6" fill="#000"/>
<rect x="433" y="139" width="1" height="4" fill="#fff"/>
<rect x="436" y="126" width="3" height="4" fill="#000"/>
<rect x="437" y="127" width="1" height="2" fill="#fff"/>
<rect x="440" y="122" width="1" height="4" fill="#000"/>
<rect x="439" y="126" width="3" height="1" fill="#000"/>
<rect x="444" y="118" width="1" height="1" fill="#000"/>
<rect x="444" y="121" width="1" height="1" fill="#000"/>
<rect x="443" y="119" width="3" height="2" fill="#000"/>
<rect x="448" y="110" width="1" height="3" fill="#000"/>
<rect x="448" y="114" width="1" height="5" fill="#000"/>
<rect x="447" y="113" width="3" height="1" fill="#000"/>
<rect x="451" y="107" width="1" height="4" fill="#000"/>
<rect x="450" y="105" width="3" height="2" fill="#000"/>
<rect x="454" y="107" width="3" height="2" fill="#000"/>
<rect x="459" y="105" width="1" height="6" fill="#000"/>
<rect x="458" y="102" width="3" height="3" fill="#000"/>
<rect x="462" y="99" width="1" height="5" fill="#000"/>
<rect x="461" y="94" width="3" height="5" fill="#000"/>
<rect x="462" y="95" width="1" height="3" fill="#fff"/>
<rect x="466" y="96" width="1" height="5" fill="#000"/>
<rect x="466" y="103" width="1" height="3" fill="#000"/>
<rect x="465" y="101" width="3" height="2" fill="#000"/>
<rect x="470" y="102" width="1" height="2" fill="#000"/>
<rect x="469" y="99" width="3" height="3" fill="#000"/>
<rect x="472" y="116" width="3" height="3" fill="#000"/>
<rect x="473" y="117" width="1" height="1" fill="#fff"/>
<rect x="477" y="115" width="1" height="4" fill="#000"/>
<rect x="476" y="111" width="3" height="4" fill="#000"/>
<rect x="477" y="112" width="1" height="2" fill="#fff"/>
<rect x="481" y="113" width="1" height="1" fill="#000"/>
<rect x="481" y="115" width="1" height="1" fill="#000"/>
<rect x="480" y="114" width="3" height="1" fill="#000"/>
<rect x="484" y="111" width="1" height="3" fill="#000"/>
<rect x="484" y="116" width="1" height="4" fill="#000"/>
<rect x="483" y="114" width="3" height="2" fill="#000"/>
<rect x="487" y="111" width="3" height="7" fill="#000"/>
<rect x="491" y="115" width="1" height="5" fill="#000"/>
<rect x="490" y="114" width="3" height="1" fill="#000"/>
<rect x="494" y="110" width="3" height="6" fill="#000"/>
<rect x="495" y="111" width="1" height="4" fill="#fff"/>
<rect x="498" y="106" width="3" height="5" fill="#000"/>
<rect x="502" y="104" width="1" height="3" fill="#000"/>
<rect x="501" y="107" width="3" height="3" fill="#000"/>
<rect x="505" y="108" width="3" height="3" fill="#000"/>
<rect x="506" y="109" width="1" height="1" fill="#fff"/>
<rect x="510" y="102" width="1" height="3" fill="#000"/>
<rect x="509" y="100" width="3" height="2" fill="#000"/>
<rect x="513" y="98" width="1" height="2" fill="#000"/>
<rect x="512" y="96" width="3" height="2" fill="#000"/>
<rect x="516" y="93" width="3" height="4" fill="#000"/>
<rect x="517" y="94" width="1" height="2" fill="#fff"/>
<rect x="520" y="93" width="3" height="2" fill="#000"/>
<rect x="523" y="90" width="3" height="8" fill="#000"/>
<rect x="528" y="100" width="1" height="3" fill="#000"/>
<rect x="527" y="95" width="3" height="5" fill="#000"/>
<rect x="532" y="101" width="1" height="3" fill="#000"/>
<rect x="531" y="75" width="3" height="26" fill="#000"/>
<rect x="535" y="120" width="1" height="4" fill="#000"/>
<rect x="534" y="107" width="3" height="13" fill="#000"/>
<rect x="538" y="104" width="3" height="8" fill="#000"/>
<rect x="539" y="105" width="1" height="6" fill="#fff"/>
<rect x="543" y="101" width="1" height="2" fill="#000"/>
<rect x="543" y="109" width="1" height="1" fill="#000"/>
<rect x="542" y="103" width="3" height="6" fill="#000"/>
<rect x="545" y="120" width="3" height="6" fill="#000"/>
<rect x="546" y="121" width="1" height="4" fill="#fff"/>
<rect x="550" y="115" width="1" height="1" fill="#000"/>
<rect x="550" y="123" width="1" height="2" fill="#000"/>
<rect x="549" y="116" width="3" height="7" fill="#000"/>
<rect x="554" y="113" width="1" height="6" fill="#000"/>
<rect x="553" y="110" width="3" height="3" fill="#000"/>
<rect x="557" y="111" width="1" height="2" fill="#000"/>
<rect x="556" y="113" width="3" height="4" fill="#000"/>
<rect x="560" y="106" width="3" height="5" fill="#000"/>
<rect x="561" y="107" width="1" height="3" fill="#fff"/>
<rect x="565" y="101" width="1" height="3" fill="#000"/>
<rect x="564" y="99" width="3" height="2" fill="#000"/>
<rect x="568" y="104" width="1" height="2" fill="#000"/>
<rect x="567" y="101" width="3" height="3" fill="#000"/>
<rect x="568" y="102" width="1" height="1" fill="#fff"/>
<rect x="571" y="97" width="3" height="7" fill="#000"/>
<rect x="575" y="102" width="3" height="2" fill="#000"/>
<rect x="578" y="102" width="3" height="8" fill="#000"/>
<rect x="583" y="111" width="1" height="9" fill="#000"/>
<rect x="582" y="109" width="3" height="2" fill="#000"/>
<rect x="587" y="117" width="1" height="1" fill="#000"/>
<rect x="586" y="113" width="3" height="4" fill="#000"/>
<rect x="590" y="99" width="1" height="1" fill="#000"/>
<rect x="590" y="107" width="1" height="5" fill="#000"/>
<rect x="589" y="100" width="3" height="7" fill="#000"/>
<rect x="590" y="101" width="1" height="5" fill="#fff"/>
<rect x="593" y="100" width="3" height="4" fill="#000"/>
<rect x="597" y="99" width="3" height="6" fill="#000"/>
<rect x="598" y="100" width="1" height="4" fill="#fff"/>
<rect x="601" y="98" width="1" height="3" fill="#000"/>
<rect x="600" y="96" width="3" height="2" fill="#000"/>
<rect x="604" y="92" width="3" height="7" fill="#000"/>
<rect x="605" y="93" width="1" height="5" fill="#fff"/>
<rect x="608" y="92" width="3" height="10" fill="#000"/>
<rect x="612" y="111" width="1" height="5" fill="#000"/>
<rect x="611" y="107" width="3" height="4" fill="#000"/>
<rect x="612" y="108" width="1" height="2" fill="#fff"/>
<rect x="616" y="100" width="1" height="1" fill="#000"/>
<rect x="616" y="105" width="1" height="1" fill="#000"/>
<rect x="615" y="101" width="3" height="4" fill="#000"/>
<rect x="616" y="102" width="1" height="2" fill="#fff"/>
<rect x="620" y="101" width="1" height="2" fill="#000"/>
<rect x="619" y="93" width="3" height="8" fill="#000"/>
<rect x="620" y="94" width="1" height="6" fill="#fff"/>
<rect x="623" y="97" width="1" height="5" fill="#000"/>
<rect x="622" y="86" width="3" height="11" fill="#000"/>
<rect x="627" y="92" width="1" height="1" fill="#000"/>
<rect x="627" y="94" width="1" height="1" fill="#000"/>
<rect x="626" y="93" width="3" height="1" fill="#000"/>
<rect x="631" y="89" width="1" height="1" fill="#000"/>
<rect x="631" y="92" width="1" height="4" fill="#000"/>
<rect x="630" y="90" width="3" height="2" fill="#000"/>
<rect x="634" y="107" width="1" height="1" fill="#000"/>
<rect x="633" y="100" width="3" height="7" fill="#000"/>
<rect x="638" y="98" width="1" height="1" fill="#000"/>
<rect x="638" y="103" width="1" height="2" fill="#000"/>
<rect x="637" y="99" width="3" height="4" fill="#000"/>
<rect x="638" y="100" width="1" height="2" fill="#fff"/>
<rect x="641" y="98" width="3" height="2" fill="#000"/>
<rect x="644" y="94" width="3" height="3" fill="#000"/>
<rect x="645" y="95" width="1" height="1" fill="#fff"/>
<rect x="648" y="91" width="3" height="6" fill="#000"/>
<rect x="653" y="93" width="1" height="3" fill="#000"/>
<rect x="653" y="97" width="1" height="6" fill="#000"/>
<rect x="652" y="96" width="3" height="1" fill="#000"/>
<rect x="656" y="88" width="1" height="3" fill="#000"/>
<rect x="655" y="91" width="3" height="10" fill="#000"/>
<rect x="656" y="92" width="1" height="8" fill="#fff"/>
<rect x="660" y="86" width="1" height="5" fill="#000"/>
<rect x="659" y="85" width="3" height="1" fill="#000"/>
<rect x="663" y="81" width="3" height="6" fill="#000"/>
<rect x="664" y="82" width="1" height="4" fill="#fff"/>
<rect x="667" y="87" width="1" height="2" fill="#000"/>
<rect x="666" y="79" width="3" height="8" fill="#000"/>
<rect x="671" y="90" width="1" height="2" fill="#000"/>
<rect x="670" y="85" width="3" height="5" fill="#000"/>
<rect x="675" y="96" width="1" height="4" fill="#000"/>
<rect x="674" y="93" width="3" height="3" fill="#000"/>
<rect x="677" y="88" width="3" height="7" fill="#000"/>
<rect x="678" y="89" width="1" height="5" fill="#fff"/>
<rect x="682" y="86" width="1" height="2" fill="#000"/>
<rect x="681" y="82" width="3" height="4" fill="#000"/>
<rect x="686" y="87" width="1" height="1" fill="#000"/>
<rect x="685" y="81" width="3" height="6" fill="#000"/>
<rect x="686" y="82" width="1" height="4" fill="#fff"/>
<rect x="689" y="84" width="1" height="2" fill="#000"/>
<rect x="688" y="76" width="3" height="8" fill="#000"/>
<rect x="689" y="77" width="1" height="6" fill="#fff"/>
<rect x="693" y="70" width="1" height="2" fill="#000"/>
<rect x="693" y="77" width="1" height="3" fill="#000"/>
<rect x="692" y="72" width="3" height="5" fill="#000"/>
<rect x="697" y="72" width="1" height="2" fill="#000"/>
<rect x="697" y="76" width="1" height="2" fill="#000"/>
<rect x="696" y="74" width="3" height="2" fill="#000"/>
<rect x="700" y="73" width="1" height="3" fill="#000"/>
<rect x="699" y="72" width="3" height="1" fill="#000"/>
<rect x="704" y="78" width="1" height="1" fill="#000"/>
<rect x="703" y="67" width="3" height="11" fill="#000"/>
<rect x="707" y="90" width="3" height="7" fill="#000"/>
<rect x="708" y="91" width="1" height="5" fill="#fff"/>
<rect x="711" y="92" width="1" height="3" fill="#000"/>
<rect x="710" y="91" width="3" height="1" fill="#000"/>
<rect x="3" y="5" width="1" height="294" fill="#000"/>
<rect x="719" y="5" width="1" height="294" fill="#000"/>
<rect x="3" y="298" width="717" height="1" fill="#000"/>
<rect x="3" y="5" width="8" height="1" fill="#000"/>
<rect x="433" y="5" width="287" height="1" fill="#000"/>
<rect x="8" y="298" width="1" height="8" fill="#000"/>
<text x="12" y="310" fill="#000" text-anchor="start" textLength="27.2">2025</text>
<rect x="81" y="298" width="1" height="8" fill="#000"/>
<text x="85" y="310" fill="#000" text-anchor="start">Feb</text>
<rect x="151" y="298" width="1" height="8" fill="#000"/>
<text x="155" y="310" fill="#000" text-anchor="start">Mar</text>
<rect x="228" y="298" width="1" height="8" fill="#000"/>
<text x="232" y="310" fill="#000" text-anchor="start">Apr</text>
<rect x="305" y="298" width="1" height="8" fill="#000"/>
<text x="309" y="310" fill="#000" text-anchor="start">May</text>
<rect x="382" y="298" width="1" height="8" fill="#000"/>
<text x="386" y="310" fill="#000" text-anchor="start">Jun</text>
<rect x="455" y="298" width="1" height="8" fill="#000"/>
<text x="459" y="310" fill="#000" text-anchor="start">Jul</text>
<rect x="535" y="298" width="1" height="8" fill="#000"/>
<text x="539" y="310" fill="#000" text-anchor="start">Aug</text>
<rect x="612" y="298" width="1" height="8" fill="#000"/>
<text x="616" y="310" fill="#000" text-anchor="start">Sep</text>
<rect x="689" y="298" width="1" height="8" fill="#000"/>
<text x="693" y="310" fill="#000" text-anchor="start">Oct</text>
<text x="775.5" y="37" fill="#000" text-anchor="end">58</text>
<text x="775.5" y="76" fill="#000" text-anchor="end">56</text>
<text x="775.5" y="114" fill="#000" text-anchor="end">54</text>
<text x="775.5" y="153" fill="#000" text-anchor="end">52</text>
<text x="775.5" y="191" fill="#000" text-anchor="end">50</text>
<text x="775.5" y="230" fill="#000" text-anchor="end">48</text>
<text x="775.5" y="268" fill="#000" text-anchor="end">46</text>
<line x1="4" x2="719" y1="340.5" y2="340.5" stroke="#000" stroke-dasharray="1 7" shape-rendering="crispEdges"/>
<rect x="719" y="340" width="5" height="1" fill="#000"/>
<line x1="4" x2="719" y1="366.5" y2="366.5" stroke="#000" stroke-dasharray="1 7" shape-rendering="crispEdges"/>
<rect x="719" y="366" width="5" height="1" fill="#000"/>
<line x1="4" x2="719" y1="391.5" y2="391.5" stroke="#000" stroke-dasharray="1 7" shape-rendering="crispEdges"/>
<rect x="719" y="391" width="5" height="1" fill="#000"/>
<polyline points="4.6,374.2 9.2,378 17,380.3 21.5,383.4 26.2,387.2 30.8,388.8 34.6,389.5 38.5,388.8 44.6,387.2 47.7,384.9 50.8,380.3 54.6,376.5 61.5,374.2 66.2,373.4 70.8,371.1 75.4,368.8 80,367.7 89.2,367.2 92.3,367.7 95.4,366.5 100,362.6 103,357.5 107.7,356.9 113.8,357.5 116.2,358.5 120.8,360.3 127,364.9 133,369.5 140.8,373.4 148.5,377.2 154.6,381 160.8,385.7 167,390.3 171.5,395.7 176.2,400.3 180.8,404.2 187,406.5 193,408.3 199.2,410 203.8,408.3 208.5,404.9 213,401.8 217.7,400.6 223.8,400.3 226.2,400 232.3,397.2 237,399.1 241.5,406.5 246.2,411 250.8,408.8 257,406.5 263,403.4 267.7,404.9 273.8,407.2 280,409.5 284.6,409.5 289.2,405.7 293.8,400.3 300,394.9 306.2,391.1 310.8,380.3 315.4,364.9 320,358.8 326.2,351.1 332.3,344.9 339.2,341.5 343.8,335.7 348.5,329.5 352,327.5 358,327 361,328.5 363,331 368.5,333.4 376.2,335.7 380.8,339.5 385.4,341.8 391.5,341.1 397.7,339.5 403.8,340 407,343.4 411.5,348 417.7,352.6 422.3,356.9 427,360.3 431.5,361.5 437.7,359.5 443.8,358.8 446.2,358.8 452.3,357.2 460,356.5 467.7,355.7 475.4,355.7 483,356.5 490.8,357.2 497,354.9 501.5,352.6 509.2,352.3 517,352.6 524.6,352.6 530.8,355.7 537,358 543,361.1 549.2,364.2 555.4,364.9 557.7,362.2 565.4,362.2 573,363.7 580.8,364.9 588.5,366.5 596.2,367.7 600.8,367.2 607,365.7 614.6,364.2 620.8,361.1 627,359.5 633,359.5 639.2,361.1 645.4,362.2 651.5,361.1 657.7,359.5 663.8,358.5 670,358.5 680,359.5 690,358.5 700,358.2 712,358.2" fill="none" stroke="#0000ff" stroke-width="1" shape-rendering="crispEdges"/>
<polyline points="4.6,375.7 7.7,378 10.8,376.9 15.4,374.2 20,373.8 26.2,376.5 30.8,378.8 34.6,380.3 37.7,377.5 41.5,374.9 47.7,373.4 53.8,371.8 57.7,368.3 61.5,364.2 66.2,359.5 70,357.2 75.4,356.9 80,357.5 83.8,359.5 89.2,361.1 95.4,362.2 101.5,363.7 107.7,366.2 112.3,367.4 116.2,367.2 120.8,365.7 125.4,366.5 130,369.5 136.2,373.4 143.8,376 150,378.8 157.7,383.7 163.8,386.5 171.5,389.5 177.7,394.2 182.3,395.7 188.5,395.2 194.6,392.6 200.8,390.3 205.4,385.7 210,379.5 214.6,373.4 219.2,370.3 223.8,371.4 226.2,371.4 232.3,369.8 236.2,374.2 240,384.9 244.6,394.2 249.2,400.3 255.4,401.8 261.5,400 264.6,399.1 269.2,401.1 273,397.2 277,389.5 281.5,380.3 287.7,370.3 293.8,363.7 300,360.6 306.2,355.7 312.3,344.9 316.2,342.2 320,344.2 326.2,347.2 330.8,348.8 336.2,347.7 342.3,348.3 348.5,349.5 354.6,348.8 360.8,348.8 367,349.5 373,353.4 379.2,356.5 385.4,359.5 390,360.6 394.6,358.8 399.2,357.2 405.4,356.9 411.5,358.8 417.7,361.5 423.8,364.2 430,367.2 436.2,369.2 440.8,369.5 446.2,366.5 452.3,362.6 458.5,358 464.6,353.4 469.2,351.4 473.8,352.6 480,355.7 486.2,358.8 492.3,362.2 498.5,364.6 504.6,366.2 509.2,365.7 515.4,363.4 521.5,360.6 527.7,359.5 533.8,360.3 540,362.2 546.2,364.9 552.3,368 557,369.8 562.3,370.3 568.5,369.5 574.6,368.3 582.3,366.5 590,364.9 596.2,364.2 603.8,364.2 611.5,364.9 619.2,364.2 625.4,362.2 630,361.1 636.2,362.6 642.3,364.2 650,364.2 657.7,363.4 670,363.1 690,362 712,361" fill="none" stroke="#808000" stroke-width="1" shape-rendering="crispEdges"/>
<polyline points="4.6,367.8 9.2,370.1 15.4,373.2 23,377.1 30.8,380.9 37,383.6 43,385.5 47.7,385.2 52.3,384 61.5,380.6 69.2,377.5 77,374.8 86.2,372.4 92.3,370.9 98.5,368.9 104.6,366.8 110.8,364.3 116.2,362.4 123.8,361.4 130,362.8 134.6,364.8 140.8,367.1 148.5,370.4 156.2,374 163.8,378.6 171.5,384 177.7,388.6 182.3,392.4 187,396.3 193,400.1 199.2,403.2 205.4,404.8 210,404.8 216.2,403.4 222.3,402.4 226.2,401.7 233.8,401.2 240,402.4 246.2,404.3 252.3,405.8 258.5,406.8 264.6,405.5 272.3,406.3 278.5,407.4 284.6,408.3 290.8,407.8 297,405.5 303,402.1 309.2,397.5 313.8,392.4 318.5,385.5 323,379.4 327.7,373.2 332.3,367.1 337,361.6 339.2,357.8 343.8,351.7 348.5,346.3 353,342.4 357.7,339.1 362.3,336.6 368.5,335.5 376.2,336 382.3,337.8 390,339.4 397.7,339.8 405.4,340.1 411.5,342.1 417.7,345.5 423.8,349.4 430,352.4 436.2,354.8 442.3,356.3 447.7,357.1 455.4,357.1 463,356.6 470.8,356.3 478.5,356.6 486.2,357.1 493.8,356.6 500,354.4 507.7,354 517,353.7 524.6,354 532.3,355.5 540,357.1 547.7,359.7 553.8,361.6 557.7,362.1 565.4,362.8 573,363.2 580.8,364.3 588.5,365.5 596.2,366.3 603.8,365.8 611.5,365.5 619.2,364.3 627,362.8 634.6,362.1 642.3,362.8 650,362.6 653.8,361.9 660.8,360.4 668.8,360.4 677,360.8 683.8,360.4 690.7,359.3 697.7,358.5 704.6,358.5 712.7,358.5" fill="none" stroke="#0000ff" stroke-width="1" shape-rendering="crispEdges"/>
<rect x="4" y="367" width="3" height="3" fill="#0000ff"/>
<rect x="7" y="368" width="3" height="3" fill="#0000ff"/>
<rect x="11" y="370" width="3" height="3" fill="#0000ff"/>
<rect x="14" y="372" width="3" height="3" fill="#0000ff"/>
<rect x="18" y="374" width="3" height="3" fill="#0000ff"/>
<rect x="22" y="376" width="3" height="3" fill="#0000ff"/>
<rect x="25" y="377" width="3" height="3" fill="#0000ff"/>
<rect x="29" y="379" width="3" height="3" fill="#0000ff"/>
<rect x="33" y="381" width="3" height="3" fill="#0000ff"/>
<rect x="36" y="382" width="3" height="3" fill="#0000ff"/>
<rect x="40" y="384" width="3" height="3" fill="#0000ff"/>
<rect x="44" y="384" width="3" height="3" fill="#0000ff"/>
<rect x="47" y="383" width="3" height="3" fill="#0000ff"/>
<rect x="51" y="382" width="3" height="3" fill="#0000ff"/>
<rect x="55" y="381" width="3" height="3" fill="#0000ff"/>
<rect x="58" y="380" width="3" height="3" fill="#0000ff"/>
<rect x="62" y="378" width="3" height="3" fill="#0000ff"/>
<rect x="66" y="377" width="3" height="3" fill="#0000ff"/>
<rect x="69" y="376" width="3" height="3" fill="#0000ff"/>
<rect x="73" y="374" width="3" height="3" fill="#0000ff"/>
<rect x="77" y="373" width="3" height="3" fill="#0000ff"/>
<rect x="80" y="372" width="3" height="3" fill="#0000ff"/>
<rect x="84" y="371" width="3" height="3" fill="#0000ff"/>
<rect x="88" y="370" width="3" height="3" fill="#0000ff"/>
<rect x="91" y="369" width="3" height="3" fill="#0000ff"/>
<rect x="95" y="368" width="3" height="3" fill="#0000ff"/>
<rect x="99" y="367" width="3" height="3" fill="#0000ff"/>
<rect x="102" y="366" width="3" height="3" fill="#0000ff"/>
<rect x="106" y="364" width="3" height="3" fill="#0000ff"/>
<rect x="110" y="363" width="3" height="3" fill="#0000ff"/>
<rect x="113" y="361" width="3" height="3" fill="#0000ff"/>
<rect x="117" y="361" width="3" height="3" fill="#0000ff"/>
<rect x="121" y="360" width="3" height="3" fill="#0000ff"/>
<rect x="124" y="360" width="3" height="3" fill="#0000ff"/>
<rect x="128" y="361" width="3" height="3" fill="#0000ff"/>
<rect x="132" y="363" width="3" height="3" fill="#0000ff"/>
<rect x="135" y="364" width="3" height="3" fill="#0000ff"/>
<rect x="139" y="365" width="3" height="3" fill="#0000ff"/>
<rect x="143" y="367" width="3" height="3" fill="#0000ff"/>
<rect x="146" y="368" width="3" height="3" fill="#0000ff"/>
<rect x="150" y="370" width="3" height="3" fill="#0000ff"/>
<rect x="154" y="372" width="3" height="3" fill="#0000ff"/>
<rect x="157" y="374" width="3" height="3" fill="#0000ff"/>
<rect x="161" y="376" width="3" height="3" fill="#0000ff"/>
<rect x="165" y="379" width="3" height="3" fill="#0000ff"/>
<rect x="168" y="381" width="3" height="3" fill="#0000ff"/>
<rect x="172" y="384" width="3" height="3" fill="#0000ff"/>
<rect x="176" y="387" width="3" height="3" fill="#0000ff"/>
<rect x="179" y="389" width="3" height="3" fill="#0000ff"/>
<rect x="183" y="393" width="3" height="3" fill="#0000ff"/>
<rect x="187" y="396" width="3" height="3" fill="#0000ff"/>
<rect x="190" y="398" width="3" height="3" fill="#0000ff"/>
<rect x="194" y="400" width="3" height="3" fill="#0000ff"/>
<rect x="198" y="402" width="3" height="3" fill="#0000ff"/>
<rect x="201" y="403" width="3" height="3" fill="#0000ff"/>
<rect x="205" y="403" width="3" height="3" fill="#0000ff"/>
<rect x="209" y="403" width="3" height="3" fill="#0000ff"/>
<rect x="212" y="403" width="3" height="3" fill="#0000ff"/>
<rect x="216" y="402" width="3" height="3" fill="#0000ff"/>
<rect x="220" y="401" width="3" height="3" fill="#0000ff"/>
<rect x="223" y="401" width="3" height="3" fill="#0000ff"/>
<rect x="227" y="400" width="3" height="3" fill="#0000ff"/>
<rect x="230" y="400" width="3" height="3" fill="#0000ff"/>
<rect x="234" y="400" width="3" height="3" fill="#0000ff"/>
<rect x="238" y="401" width="3" height="3" fill="#0000ff"/>
<rect x="241" y="402" width="3" height="3" fill="#0000ff"/>
<rect x="245" y="403" width="3" height="3" fill="#0000ff"/>
<rect x="249" y="404" width="3" height="3" fill="#0000ff"/>
<rect x="252" y="404" width="3" height="3" fill="#0000ff"/>
<rect x="256" y="405" width="3" height="3" fill="#0000ff"/>
<rect x="260" y="405" width="3" height="3" fill="#0000ff"/>
<rect x="263" y="404" width="3" height="3" fill="#0000ff"/>
<rect x="267" y="404" width="3" height="3" fill="#0000ff"/>
<rect x="271" y="405" width="3" height="3" fill="#0000ff"/>
<rect x="274" y="405" width="3" height="3" fill="#0000ff"/>
<rect x="278" y="406" width="3" height="3" fill="#0000ff"/>
<rect x="282" y="407" width="3" height="3" fill="#0000ff"/>
<rect x="285" y="407" width="3" height="3" fill="#0000ff"/>
<rect x="289" y="406" width="3" height="3" fill="#0000ff"/>
<rect x="293" y="405" width="3" height="3" fill="#0000ff"/>
<rect x="296" y="404" width="3" height="3" fill="#0000ff"/>
<rect x="300" y="401" width="3" height="3" fill="#0000ff"/>
<rect x="304" y="399" width="3" height="3" fill="#0000ff"/>
<rect x="307" y="397" width="3" height="3" fill="#0000ff"/>
<rect x="311" y="392" width="3" height="3" fill="#0000ff"/>
<rect x="315" y="387" width="3" height="3" fill="#0000ff"/>
<rect x="318" y="383" width="3" height="3" fill="#0000ff"/>
<rect x="322" y="377" width="3" height="3" fill="#0000ff"/>
<rect x="326" y="372" width="3" height="3" fill="#0000ff"/>
<rect x="329" y="368" width="3" height="3" fill="#0000ff"/>
<rect x="333" y="363" width="3" height="3" fill="#0000ff"/>
<rect x="337" y="358" width="3" height="3" fill="#0000ff"/>
<rect x="340" y="353" width="3" height="3" fill="#0000ff"/>
<rect x="344" y="348" width="3" height="3" fill="#0000ff"/>
<rect x="348" y="344" width="3" height="3" fill="#0000ff"/>
<rect x="351" y="341" width="3" height="3" fill="#0000ff"/>
<rect x="355" y="338" width="3" height="3" fill="#0000ff"/>
<rect x="359" y="336" width="3" height="3" fill="#0000ff"/>
<rect x="362" y="335" width="3" height="3" fill="#0000ff"/>
<rect x="366" y="334" width="3" height="3" fill="#0000ff"/>
<rect x="370" y="334" width="3" height="3" fill="#0000ff"/>
<rect x="373" y="334" width="3" height="3" fill="#0000ff"/>
<rect x="377" y="335" width="3" height="3" fill="#0000ff"/>
<rect x="381" y="336" width="3" height="3" fill="#0000ff"/>
<rect x="384" y="337" width="3" height="3" fill="#0000ff"/>
<rect x="388" y="338" width="3" height="3" fill="#0000ff"/>
<rect x="392" y="338" width="3" height="3" fill="#0000ff"/>
<rect x="395" y="338" width="3" height="3" fill="#0000ff"/>
<rect x="399" y="338" width="3" height="3" fill="#0000ff"/>
<rect x="403" y="339" width="3" height="3" fill="#0000ff"/>
<rect x="406" y="339" width="3" height="3" fill="#0000ff"/>
<rect x="410" y="341" width="3" height="3" fill="#0000ff"/>
<rect x="414" y="343" width="3" height="3" fill="#0000ff"/>
<rect x="417" y="345" width="3" height="3" fill="#0000ff"/>
<rect x="421" y="347" width="3" height="3" fill="#0000ff"/>
<rect x="425" y="349" width="3" height="3" fill="#0000ff"/>
<rect x="428" y="351" width="3" height="3" fill="#0000ff"/>
<rect x="432" y="352" width="3" height="3" fill="#0000ff"/>
<rect x="436" y="354" width="3" height="3" fill="#0000ff"/>
<rect x="439" y="354" width="3" height="3" fill="#0000ff"/>
<rect x="443" y="355" width="3" height="3" fill="#0000ff"/>
<rect x="447" y="356" width="3" height="3" fill="#0000ff"/>
<rect x="450" y="356" width="3" height="3" fill="#0000ff"/>
<rect x="454" y="356" width="3" height="3" fill="#0000ff"/>
<rect x="458" y="355" width="3" height="3" fill="#0000ff"/>
<rect x="461" y="355" width="3" height="3" fill="#0000ff"/>
<rect x="465" y="355" width="3" height="3" fill="#0000ff"/>
<rect x="469" y="355" width="3" height="3" fill="#0000ff"/>
<rect x="472" y="355" width="3" height="3" fill="#0000ff"/>
<rect x="476" y="355" width="3" height="3" fill="#0000ff"/>
<rect x="480" y="355" width="3" height="3" fill="#0000ff"/>
<rect x="483" y="355" width="3" height="3" fill="#0000ff"/>
<rect x="487" y="355" width="3" height="3" fill="#0000ff"/>
<rect x="490" y="355" width="3" height="3" fill="#0000ff"/>
<rect x="494" y="354" width="3" height="3" fill="#0000ff"/>
<rect x="498" y="353" width="3" height="3" fill="#0000ff"/>
<rect x="501" y="353" width="3" height="3" fill="#0000ff"/>
<rect x="505" y="353" width="3" height="3" fill="#0000ff"/>
<rect x="509" y="352" width="3" height="3" fill="#0000ff"/>
<rect x="512" y="352" width="3" height="3" fill="#0000ff"/>
<rect x="516" y="352" width="3" height="3" fill="#0000ff"/>
<rect x="520" y="352" width="3" height="3" fill="#0000ff"/>
<rect x="523" y="352" width="3" height="3" fill="#0000ff"/>
<rect x="527" y="353" width="3" height="3" fill="#0000ff"/>
<rect x="531" y="354" width="3" height="3" fill="#0000ff"/>
<rect x="534" y="355" width="3" height="3" fill="#0000ff"/>
<rect x="538" y="355" width="3" height="3" fill="#0000ff"/>
<rect x="542" y="357" width="3" height="3" fill="#0000ff"/>
<rect x="545" y="358" width="3" height="3" fill="#0000ff"/>
<rect x="549" y="359" width="3" height="3" fill="#0000ff"/>
<rect x="553" y="360" width="3" height="3" fill="#0000ff"/>
<rect x="556" y="361" width="3" height="3" fill="#0000ff"/>
<rect x="560" y="361" width="3" height="3" fill="#0000ff"/>
<rect x="564" y="361" width="3" height="3" fill="#0000ff"/>
<rect x="567" y="361" width="3" height="3" fill="#0000ff"/>
<rect x="571" y="362" width="3" height="3" fill="#0000ff"/>
<rect x="575" y="362" width="3" height="3" fill="#0000ff"/>
<rect x="578" y="363" width="3" height="3" fill="#0000ff"/>
<rect x="582" y="363" width="3" height="3" fill="#0000ff"/>
<rect x="586" y="364" width="3" height="3" fill="#0000ff"/>
<rect x="589" y="364" width="3" height="3" fill="#0000ff"/>
<rect x="593" y="365" width="3" height="3" fill="#0000ff"/>
<rect x="597" y="365" width="3" height="3" fill="#0000ff"/>
<rect x="600" y="364" width="3" height="3" fill="#0000ff"/>
<rect x="604" y="364" width="3" height="3" fill="#0000ff"/>
<rect x="608" y="364" width="3" height="3" fill="#0000ff"/>
<rect x="611" y="364" width="3" height="3" fill="#0000ff"/>
<rect x="615" y="363" width="3" height="3" fill="#0000ff"/>
<rect x="619" y="363" width="3" height="3" fill="#0000ff"/>
<rect x="622" y="362" width="3" height="3" fill="#0000ff"/>
<rect x="626" y="361" width="3" height="3" fill="#0000ff"/>
<rect x="630" y="361" width="3" height="3" fill="#0000ff"/>
<rect x="633" y="361" width="3" height="3" fill="#0000ff"/>
<rect x="637" y="361" width="3" height="3" fill="#0000ff"/>
<rect x="641" y="361" width="3" height="3" fill="#0000ff"/>
<rect x="644" y="361" width="3" height="3" fill="#0000ff"/>
<rect x="648" y="361" width="3" height="3" fill="#0000ff"/>
<rect x="652" y="360" width="3" height="3" fill="#0000ff"/>
<rect x="655" y="360" width="3" height="3" fill="#0000ff"/>
<rect x="659" y="359" width="3" height="3" fill="#0000ff"/>
<rect x="663" y="359" width="3" height="3" fill="#0000ff"/>
<rect x="666" y="359" width="3" height="3" fill="#0000ff"/>
<rect x="670" y="359" width="3" height="3" fill="#0000ff"/>
<rect x="674" y="359" width="3" height="3" fill="#0000ff"/>
<rect x="677" y="359" width="3" height="3" fill="#0000ff"/>
<rect x="681" y="359" width="3" height="3" fill="#0000ff"/>
<rect x="685" y="358" width="3" height="3" fill="#0000ff"/>
<rect x="688" y="358" width="3" height="3" fill="#0000ff"/>
<rect x="692" y="357" width="3" height="3" fill="#0000ff"/>
<rect x="696" y="357" width="3" height="3" fill="#0000ff"/>
<rect x="699" y="357" width="3" height="3" fill="#0000ff"/>
<rect x="703" y="357" width="3" height="3" fill="#0000ff"/>
<rect x="707" y="357" width="3" height="3" fill="#0000ff"/>
<rect x="710" y="357" width="3" height="3" fill="#0000ff"/>
<polyline points="4.6,373.4 9.2,374.2 15.4,373.4 20,372.9 24.6,373.5 30.8,374.6 37,376.5 40.8,376.9 46.2,375.7 52.3,374.5 58.5,372.6 63,370.8 67.7,368.8 72.3,366.5 77,364.6 81.5,362.6 86.2,361.8 92.3,362.2 98.5,363.1 104.6,363.7 110.8,364.3 117.7,364.9 125.4,365.2 131.5,366.5 137.7,368.3 145.4,371.1 153,374.2 160.8,377.2 168.5,381.1 176.2,384.9 183.8,388.3 190,390.3 196.2,391.4 202.3,391.1 208.5,388.8 214.6,385.7 220.8,381.6 227.7,378 235.4,375.4 240,376.5 244.6,380.3 250.8,386.2 257,391.1 263,394.2 269.2,395.7 273.8,395.4 280,392.3 286.2,387.2 292.3,381.8 298.5,376.5 304.6,371.1 310.8,364.9 315.4,360.6 320,356.5 326.2,354.5 332.3,352.8 337.7,351.8 345.4,350.3 353,348.8 360.8,348.3 368.5,349.2 376.2,351.1 382.3,353.4 388.5,355.4 394.6,356.5 400.8,356.5 407,356.5 413,357.2 419.2,358.8 425.4,360.6 431.5,363.1 437.7,364.9 443.8,365.4 447.7,364.9 455.4,363.1 463,360.3 470.8,357.2 477,356 484.6,356.9 492.3,358.8 500,360.6 507.7,362.2 515.4,363.1 521.5,362.2 527.7,360.6 533.8,360.6 540,361.5 547.7,363.1 553.8,364.4 557.7,365.7 565.4,366.5 573,366.5 580.8,366.2 588.5,365.7 596.2,365.2 603.8,364.9 611.5,364.9 619.2,364.6 627,363.7 634.6,363.4 642.3,363.7 650,363.7 660.8,363.3 668.8,363.1 677,363.1 683.8,362.5 690.7,361.7 697.7,361.3 704.6,361 712.7,360.8" fill="none" stroke="#808000" stroke-width="1" shape-rendering="crispEdges"/>
<rect x="4" y="372" width="3" height="3" fill="#808000"/>
<rect x="7" y="373" width="3" height="3" fill="#808000"/>
<rect x="11" y="372" width="3" height="3" fill="#808000"/>
<rect x="14" y="372" width="3" height="3" fill="#808000"/>
<rect x="18" y="371" width="3" height="3" fill="#808000"/>
<rect x="22" y="372" width="3" height="3" fill="#808000"/>
<rect x="25" y="372" width="3" height="3" fill="#808000"/>
<rect x="29" y="373" width="3" height="3" fill="#808000"/>
<rect x="33" y="374" width="3" height="3" fill="#808000"/>
<rect x="36" y="375" width="3" height="3" fill="#808000"/>
<rect x="40" y="375" width="3" height="3" fill="#808000"/>
<rect x="44" y="374" width="3" height="3" fill="#808000"/>
<rect x="47" y="374" width="3" height="3" fill="#808000"/>
<rect x="51" y="373" width="3" height="3" fill="#808000"/>
<rect x="55" y="372" width="3" height="3" fill="#808000"/>
<rect x="58" y="371" width="3" height="3" fill="#808000"/>
<rect x="62" y="369" width="3" height="3" fill="#808000"/>
<rect x="66" y="367" width="3" height="3" fill="#808000"/>
<rect x="69" y="366" width="3" height="3" fill="#808000"/>
<rect x="73" y="364" width="3" height="3" fill="#808000"/>
<rect x="77" y="362" width="3" height="3" fill="#808000"/>
<rect x="80" y="361" width="3" height="3" fill="#808000"/>
<rect x="84" y="360" width="3" height="3" fill="#808000"/>
<rect x="88" y="361" width="3" height="3" fill="#808000"/>
<rect x="91" y="361" width="3" height="3" fill="#808000"/>
<rect x="95" y="361" width="3" height="3" fill="#808000"/>
<rect x="99" y="362" width="3" height="3" fill="#808000"/>
<rect x="102" y="362" width="3" height="3" fill="#808000"/>
<rect x="106" y="362" width="3" height="3" fill="#808000"/>
<rect x="110" y="363" width="3" height="3" fill="#808000"/>
<rect x="113" y="363" width="3" height="3" fill="#808000"/>
<rect x="117" y="363" width="3" height="3" fill="#808000"/>
<rect x="121" y="364" width="3" height="3" fill="#808000"/>
<rect x="124" y="364" width="3" height="3" fill="#808000"/>
<rect x="128" y="365" width="3" height="3" fill="#808000"/>
<rect x="132" y="366" width="3" height="3" fill="#808000"/>
<rect x="135" y="366" width="3" height="3" fill="#808000"/>
<rect x="139" y="368" width="3" height="3" fill="#808000"/>
<rect x="143" y="369" width="3" height="3" fill="#808000"/>
<rect x="146" y="370" width="3" height="3" fill="#808000"/>
<rect x="150" y="372" width="3" height="3" fill="#808000"/>
<rect x="154" y="374" width="3" height="3" fill="#808000"/>
<rect x="157" y="375" width="3" height="3" fill="#808000"/>
<rect x="161" y="377" width="3" height="3" fill="#808000"/>
<rect x="165" y="379" width="3" height="3" fill="#808000"/>
<rect x="168" y="380" width="3" height="3" fill="#808000"/>
<rect x="172" y="382" width="3" height="3" fill="#808000"/>
<rect x="176" y="384" width="3" height="3" fill="#808000"/>
<rect x="179" y="385" width="3" height="3" fill="#808000"/>
<rect x="183" y="387" width="3" height="3" fill="#808000"/>
<rect x="187" y="388" width="3" height="3" fill="#808000"/>
<rect x="190" y="389" width="3" height="3" fill="#808000"/>
<rect x="194" y="390" width="3" height="3" fill="#808000"/>
<rect x="198" y="390" width="3" height="3" fill="#808000"/>
<rect x="201" y="390" width="3" height="3" fill="#808000"/>
<rect x="205" y="388" width="3" height="3" fill="#808000"/>
<rect x="209" y="386" width="3" height="3" fill="#808000"/>
<rect x="212" y="385" width="3" height="3" fill="#808000"/>
<rect x="216" y="382" width="3" height="3" fill="#808000"/>
<rect x="220" y="380" width="3" height="3" fill="#808000"/>
<rect x="223" y="378" width="3" height="3" fill="#808000"/>
<rect x="227" y="376" width="3" height="3" fill="#808000"/>
<rect x="230" y="375" width="3" height="3" fill="#808000"/>
<rect x="234" y="374" width="3" height="3" fill="#808000"/>
<rect x="238" y="375" width="3" height="3" fill="#808000"/>
<rect x="241" y="377" width="3" height="3" fill="#808000"/>
<rect x="245" y="381" width="3" height="3" fill="#808000"/>
<rect x="249" y="384" width="3" height="3" fill="#808000"/>
<rect x="252" y="387" width="3" height="3" fill="#808000"/>
<rect x="256" y="390" width="3" height="3" fill="#808000"/>
<rect x="260" y="392" width="3" height="3" fill="#808000"/>
<rect x="263" y="393" width="3" height="3" fill="#808000"/>
<rect x="267" y="394" width="3" height="3" fill="#808000"/>
<rect x="271" y="394" width="3" height="3" fill="#808000"/>
<rect x="274" y="393" width="3" height="3" fill="#808000"/>
<rect x="278" y="391" width="3" height="3" fill="#808000"/>
<rect x="282" y="388" width="3" height="3" fill="#808000"/>
<rect x="285" y="385" width="3" height="3" fill="#808000"/>
<rect x="289" y="382" width="3" height="3" fill="#808000"/>
<rect x="293" y="378" width="3" height="3" fill="#808000"/>
<rect x="296" y="376" width="3" height="3" fill="#808000"/>
<rect x="300" y="372" width="3" height="3" fill="#808000"/>
<rect x="304" y="369" width="3" height="3" fill="#808000"/>
<rect x="307" y="366" width="3" height="3" fill="#808000"/>
<rect x="311" y="362" width="3" height="3" fill="#808000"/>
<rect x="315" y="358" width="3" height="3" fill="#808000"/>
<rect x="318" y="355" width="3" height="3" fill="#808000"/>
<rect x="322" y="354" width="3" height="3" fill="#808000"/>
<rect x="326" y="353" width="3" height="3" fill="#808000"/>
<rect x="329" y="352" width="3" height="3" fill="#808000"/>
<rect x="333" y="351" width="3" height="3" fill="#808000"/>
<rect x="337" y="350" width="3" height="3" fill="#808000"/>
<rect x="340" y="350" width="3" height="3" fill="#808000"/>
<rect x="344" y="349" width="3" height="3" fill="#808000"/>
<rect x="348" y="348" width="3" height="3" fill="#808000"/>
<rect x="351" y="347" width="3" height="3" fill="#808000"/>
<rect x="355" y="347" width="3" height="3" fill="#808000"/>
<rect x="359" y="347" width="3" height="3" fill="#808000"/>
<rect x="362" y="347" width="3" height="3" fill="#808000"/>
<rect x="366" y="348" width="3" height="3" fill="#808000"/>
<rect x="370" y="348" width="3" height="3" fill="#808000"/>
<rect x="373" y="349" width="3" height="3" fill="#808000"/>
<rect x="377" y="350" width="3" height="3" fill="#808000"/>
<rect x="381" y="352" width="3" height="3" fill="#808000"/>
<rect x="384" y="353" width="3" height="3" fill="#808000"/>
<rect x="388" y="354" width="3" height="3" fill="#808000"/>
<rect x="392" y="355" width="3" height="3" fill="#808000"/>
<rect x="395" y="355" width="3" height="3" fill="#808000"/>
<rect x="399" y="355" width="3" height="3" fill="#808000"/>
<rect x="403" y="355" width="3" height="3" fill="#808000"/>
<rect x="406" y="355" width="3" height="3" fill="#808000"/>
<rect x="410" y="356" width="3" height="3" fill="#808000"/>
<rect x="414" y="356" width="3" height="3" fill="#808000"/>
<rect x="417" y="357" width="3" height="3" fill="#808000"/>
<rect x="421" y="358" width="3" height="3" fill="#808000"/>
<rect x="425" y="360" width="3" height="3" fill="#808000"/>
<rect x="428" y="361" width="3" height="3" fill="#808000"/>
<rect x="432" y="362" width="3" height="3" fill="#808000"/>
<rect x="436" y="363" width="3" height="3" fill="#808000"/>
<rect x="439" y="364" width="3" height="3" fill="#808000"/>
<rect x="443" y="364" width="3" height="3" fill="#808000"/>
<rect x="447" y="363" width="3" height="3" fill="#808000"/>
<rect x="450" y="363" width="3" height="3" fill="#808000"/>
<rect x="454" y="362" width="3" height="3" fill="#808000"/>
<rect x="458" y="360" width="3" height="3" fill="#808000"/>
<rect x="461" y="359" width="3" height="3" fill="#808000"/>
<rect x="465" y="357" width="3" height="3" fill="#808000"/>
<rect x="469" y="356" width="3" height="3" fill="#808000"/>
<rect x="472" y="355" width="3" height="3" fill="#808000"/>
<rect x="476" y="355" width="3" height="3" fill="#808000"/>
<rect x="480" y="355" width="3" height="3" fill="#808000"/>
<rect x="483" y="355" width="3" height="3" fill="#808000"/>
<rect x="487" y="356" width="3" height="3" fill="#808000"/>
<rect x="490" y="357" width="3" height="3" fill="#808000"/>
<rect x="494" y="358" width="3" height="3" fill="#808000"/>
<rect x="498" y="359" width="3" height="3" fill="#808000"/>
<rect x="501" y="360" width="3" height="3" fill="#808000"/>
<rect x="505" y="360" width="3" height="3" fill="#808000"/>
<rect x="509" y="361" width="3" height="3" fill="#808000"/>
<rect x="512" y="361" width="3" height="3" fill="#808000"/>
<rect x="516" y="361" width="3" height="3" fill="#808000"/>
<rect x="520" y="361" width="3" height="3" fill="#808000"/>
<rect x="523" y="360" width="3" height="3" fill="#808000"/>
<rect x="527" y="359" width="3" height="3" fill="#808000"/>
<rect x="531" y="359" width="3" height="3" fill="#808000"/>
<rect x="534" y="359" width="3" height="3" fill="#808000"/>
<rect x="538" y="360" width="3" height="3" fill="#808000"/>
<rect x="542" y="361" width="3" height="3" fill="#808000"/>
<rect x="545" y="361" width="3" height="3" fill="#808000"/>
<rect x="549" y="362" width="3" height="3" fill="#808000"/>
<rect x="553" y="363" width="3" height="3" fill="#808000"/>
<rect x="556" y="364" width="3" height="3" fill="#808000"/>
<rect x="560" y="365" width="3" height="3" fill="#808000"/>
<rect x="564" y="365" width="3" height="3" fill="#808000"/>
<rect x="567" y="365" width="3" height="3" fill="#808000"/>
<rect x="571" y="365" width="3" height="3" fill="#808000"/>
<rect x="575" y="365" width="3" height="3" fill="#808000"/>
<rect x="578" y="365" width="3" height="3" fill="#808000"/>
<rect x="582" y="365" width="3" height="3" fill="#808000"/>
<rect x="586" y="364" width="3" height="3" fill="#808000"/>
<rect x="589" y="364" width="3" height="3" fill="#808000"/>
<rect x="593" y="364" width="3" height="3" fill="#808000"/>
<rect x="597" y="364" width="3" height="3" fill="#808000"/>
<rect x="600" y="363" width="3" height="3" fill="#808000"/>
<rect x="604" y="363" width="3" height="3" fill="#808000"/>
<rect x="608" y="363" width="3" height="3" fill="#808000"/>
<rect x="611" y="363" width="3" height="3" fill="#808000"/>
<rect x="615" y="363" width="3" height="3" fill="#808000"/>
<rect x="619" y="363" width="3" height="3" fill="#808000"/>
<rect x="622" y="363" width="3" height="3" fill="#808000"/>
<rect x="626" y="362" width="3" height="3" fill="#808000"/>
<rect x="630" y="362" width="3" height="3" fill="#808000"/>
<rect x="633" y="362" width="3" height="3" fill="#808000"/>
<rect x="637" y="362" width="3" height="3" fill="#808000"/>
<rect x="641" y="362" width="3" height="3" fill="#808000"/>
<rect x="644" y="362" width="3" height="3" fill="#808000"/>
<rect x="648" y="362" width="3" height="3" fill="#808000"/>
<rect x="652" y="362" width="3" height="3" fill="#808000"/>
<rect x="655" y="362" width="3" height="3" fill="#808000"/>
<rect x="659" y="362" width="3" height="3" fill="#808000"/>
<rect x="663" y="362" width="3" height="3" fill="#808000"/>
<rect x="666" y="362" width="3" height="3" fill="#808000"/>
<rect x="670" y="362" width="3" height="3" fill="#808000"/>
<rect x="674" y="362" width="3" height="3" fill="#808000"/>
<rect x="677" y="361" width="3" height="3" fill="#808000"/>
<rect x="681" y="361" width="3" height="3" fill="#808000"/>
<rect x="685" y="361" width="3" height="3" fill="#808000"/>
<rect x="688" y="360" width="3" height="3" fill="#808000"/>
<rect x="692" y="360" width="3" height="3" fill="#808000"/>
<rect x="696" y="360" width="3" height="3" fill="#808000"/>
<rect x="699" y="360" width="3" height="3" fill="#808000"/>
<rect x="703" y="360" width="3" height="3" fill="#808000"/>
<rect x="707" y="359" width="3" height="3" fill="#808000"/>
<rect x="710" y="359" width="3" height="3" fill="#808000"/>
<rect x="15" y="358" width="1" height="2" fill="#009000"/>
<rect x="14" y="360" width="3" height="2" fill="#009000"/>
<rect x="13" y="362" width="5" height="2" fill="#009000"/>
<rect x="12" y="364" width="7" height="2" fill="#009000"/>
<rect x="11" y="366" width="9" height="1" fill="#009000"/>
<rect x="14" y="367" width="3" height="6" fill="#009000"/>
<rect x="45" y="358" width="1" height="2" fill="#009000"/>
<rect x="44" y="360" width="3" height="2" fill="#009000"/>
<rect x="43" y="362" width="5" height="2" fill="#009000"/>
<rect x="42" y="364" width="7" height="2" fill="#009000"/>
<rect x="41" y="366" width="9" height="1" fill="#009000"/>
<rect x="44" y="367" width="3" height="6" fill="#009000"/>
<rect x="48" y="358" width="1" height="2" fill="#009000"/>
<rect x="47" y="360" width="3" height="2" fill="#009000"/>
<rect x="46" y="362" width="5" height="2" fill="#009000"/>
<rect x="45" y="364" width="7" height="2" fill="#009000"/>
<rect x="44" y="366" width="9" height="1" fill="#009000"/>
<rect x="47" y="367" width="3" height="6" fill="#009000"/>
<rect x="202" y="358" width="1" height="2" fill="#009000"/>
<rect x="201" y="360" width="3" height="2" fill="#009000"/>
<rect x="200" y="362" width="5" height="2" fill="#009000"/>
<rect x="199" y="364" width="7" height="2" fill="#009000"/>
<rect x="198" y="366" width="9" height="1" fill="#009000"/>
<rect x="201" y="367" width="3" height="6" fill="#009000"/>
<rect x="210" y="358" width="1" height="2" fill="#009000"/>
<rect x="209" y="360" width="3" height="2" fill="#009000"/>
<rect x="208" y="362" width="5" height="2" fill="#009000"/>
<rect x="207" y="364" width="7" height="2" fill="#009000"/>
<rect x="206" y="366" width="9" height="1" fill="#009000"/>
<rect x="209" y="367" width="3" height="6" fill="#009000"/>
<rect x="261" y="358" width="1" height="2" fill="#009000"/>
<rect x="260" y="360" width="3" height="2" fill="#009000"/>
<rect x="259" y="362" width="5" height="2" fill="#009000"/>
<rect x="258" y="364" width="7" height="2" fill="#009000"/>
<rect x="257" y="366" width="9" height="1" fill="#009000"/>
<rect x="260" y="367" width="3" height="6" fill="#009000"/>
<rect x="275" y="358" width="1" height="2" fill="#009000"/>
<rect x="274" y="360" width="3" height="2" fill="#009000"/>
<rect x="273" y="362" width="5" height="2" fill="#009000"/>
<rect x="272" y="364" width="7" height="2" fill="#009000"/>
<rect x="271" y="366" width="9" height="1" fill="#009000"/>
<rect x="274" y="367" width="3" height="6" fill="#009000"/>
<rect x="290" y="358" width="1" height="2" fill="#009000"/>
<rect x="289" y="360" width="3" height="2" fill="#009000"/>
<rect x="288" y="362" width="5" height="2" fill="#009000"/>
<rect x="287" y="364" width="7" height="2" fill="#009000"/>
<rect x="286" y="366" width="9" height="1" fill="#009000"/>
<rect x="289" y="367" width="3" height="6" fill="#009000"/>
<rect x="576" y="358" width="1" height="2" fill="#009000"/>
<rect x="575" y="360" width="3" height="2" fill="#009000"/>
<rect x="574" y="362" width="5" height="2" fill="#009000"/>
<rect x="573" y="364" width="7" height="2" fill="#009000"/>
<rect x="572" y="366" width="9" height="1" fill="#009000"/>
<rect x="575" y="367" width="3" height="6" fill="#009000"/>
<rect x="609" y="358" width="1" height="2" fill="#009000"/>
<rect x="608" y="360" width="3" height="2" fill="#009000"/>
<rect x="607" y="362" width="5" height="2" fill="#009000"/>
<rect x="606" y="364" width="7" height="2" fill="#009000"/>
<rect x="605" y="366" width="9" height="1" fill="#009000"/>
<rect x="608" y="367" width="3" height="6" fill="#009000"/>
<rect x="91" y="359" width="3" height="6" fill="#ff0000"/>
<rect x="88" y="365" width="9" height="1" fill="#ff0000"/>
<rect x="89" y="366" width="7" height="2" fill="#ff0000"/>
<rect x="90" y="368" width="5" height="2" fill="#ff0000"/>
<rect x="91" y="370" width="3" height="2" fill="#ff0000"/>
<rect x="92" y="372" width="1" height="2" fill="#ff0000"/>
<rect x="124" y="359" width="3" height="6" fill="#ff0000"/>
<rect x="121" y="365" width="9" height="1" fill="#ff0000"/>
<rect x="122" y="366" width="7" height="2" fill="#ff0000"/>
<rect x="123" y="368" width="5" height="2" fill="#ff0000"/>
<rect x="124" y="370" width="3" height="2" fill="#ff0000"/>
<rect x="125" y="372" width="1" height="2" fill="#ff0000"/>
<rect x="366" y="359" width="3" height="6" fill="#ff0000"/>
<rect x="363" y="365" width="9" height="1" fill="#ff0000"/>
<rect x="364" y="366" width="7" height="2" fill="#ff0000"/>
<rect x="365" y="368" width="5" height="2" fill="#ff0000"/>
<rect x="366" y="370" width="3" height="2" fill="#ff0000"/>
<rect x="367" y="372" width="1" height="2" fill="#ff0000"/>
<rect x="373" y="359" width="3" height="6" fill="#ff0000"/>
<rect x="370" y="365" width="9" height="1" fill="#ff0000"/>
<rect x="371" y="366" width="7" height="2" fill="#ff0000"/>
<rect x="372" y="368" width="5" height="2" fill="#ff0000"/>
<rect x="373" y="370" width="3" height="2" fill="#ff0000"/>
<rect x="374" y="372" width="1" height="2" fill="#ff0000"/>
<rect x="403" y="359" width="3" height="6" fill="#ff0000"/>
<rect x="400" y="365" width="9" height="1" fill="#ff0000"/>
<rect x="401" y="366" width="7" height="2" fill="#ff0000"/>
<rect x="402" y="368" width="5" height="2" fill="#ff0000"/>
<rect x="403" y="370" width="3" height="2" fill="#ff0000"/>
<rect x="404" y="372" width="1" height="2" fill="#ff0000"/>
<rect x="406" y="359" width="3" height="6" fill="#ff0000"/>
<rect x="403" y="365" width="9" height="1" fill="#ff0000"/>
<rect x="404" y="366" width="7" height="2" fill="#ff0000"/>
<rect x="405" y="368" width="5" height="2" fill="#ff0000"/>
<rect x="406" y="370" width="3" height="2" fill="#ff0000"/>
<rect x="407" y="372" width="1" height="2" fill="#ff0000"/>
<rect x="472" y="359" width="3" height="6" fill="#ff0000"/>
<rect x="469" y="365" width="9" height="1" fill="#ff0000"/>
<rect x="470" y="366" width="7" height="2" fill="#ff0000"/>
<rect x="471" y="368" width="5" height="2" fill="#ff0000"/>
<rect x="472" y="370" width="3" height="2" fill="#ff0000"/>
<rect x="473" y="372" width="1" height="2" fill="#ff0000"/>
<rect x="483" y="359" width="3" height="6" fill="#ff0000"/>
<rect x="480" y="365" width="9" height="1" fill="#ff0000"/>
<rect x="481" y="366" width="7" height="2" fill="#ff0000"/>
<rect x="482" y="368" width="5" height="2" fill="#ff0000"/>
<rect x="483" y="370" width="3" height="2" fill="#ff0000"/>
<rect x="484" y="372" width="1" height="2" fill="#ff0000"/>
<rect x="523" y="359" width="3" height="6" fill="#ff0000"/>
<rect x="520" y="365" width="9" height="1" fill="#ff0000"/>
<rect x="521" y="366" width="7" height="2" fill="#ff0000"/>
<rect x="522" y="368" width="5" height="2" fill="#ff0000"/>
<rect x="523" y="370" width="3" height="2" fill="#ff0000"/>
<rect x="524" y="372" width="1" height="2" fill="#ff0000"/>
<rect x="534" y="359" width="3" height="6" fill="#ff0000"/>
<rect x="531" y="365" width="9" height="1" fill="#ff0000"/>
<rect x="532" y="366" width="7" height="2" fill="#ff0000"/>
<rect x="533" y="368" width="5" height="2" fill="#ff0000"/>
<rect x="534" y="370" width="3" height="2" fill="#ff0000"/>
<rect x="535" y="372" width="1" height="2" fill="#ff0000"/>
<rect x="611" y="359" width="3" height="6" fill="#ff0000"/>
<rect x="608" y="365" width="9" height="1" fill="#ff0000"/>
<rect x="609" y="366" width="7" height="2" fill="#ff0000"/>
<rect x="610" y="368" width="5" height="2" fill="#ff0000"/>
<rect x="611" y="370" width="3" height="2" fill="#ff0000"/>
<rect x="612" y="372" width="1" height="2" fill="#ff0000"/>
<rect x="637" y="359" width="3" height="6" fill="#ff0000"/>
<rect x="634" y="365" width="9" height="1" fill="#ff0000"/>
<rect x="635" y="366" width="7" height="2" fill="#ff0000"/>
<rect x="636" y="368" width="5" height="2" fill="#ff0000"/>
<rect x="637" y="370" width="3" height="2" fill="#ff0000"/>
<rect x="638" y="372" width="1" height="2" fill="#ff0000"/>
<rect x="655" y="359" width="3" height="6" fill="#ff0000"/>
<rect x="652" y="365" width="9" height="1" fill="#ff0000"/>
<rect x="653" y="366" width="7" height="2" fill="#ff0000"/>
<rect x="654" y="368" width="5" height="2" fill="#ff0000"/>
<rect x="655" y="370" width="3" height="2" fill="#ff0000"/>
<rect x="656" y="372" width="1" height="2" fill="#ff0000"/>
<rect x="677" y="359" width="3" height="6" fill="#ff0000"/>
<rect x="674" y="365" width="9" height="1" fill="#ff0000"/>
<rect x="675" y="366" width="7" height="2" fill="#ff0000"/>
<rect x="676" y="368" width="5" height="2" fill="#ff0000"/>
<rect x="677" y="370" width="3" height="2" fill="#ff0000"/>
<rect x="678" y="372" width="1" height="2" fill="#ff0000"/>
<rect x="707" y="359" width="3" height="6" fill="#ff0000"/>
<rect x="704" y="365" width="9" height="1" fill="#ff0000"/>
<rect x="705" y="366" width="7" height="2" fill="#ff0000"/>
<rect x="706" y="368" width="5" height="2" fill="#ff0000"/>
<rect x="707" y="370" width="3" height="2" fill="#ff0000"/>
<rect x="708" y="372" width="1" height="2" fill="#ff0000"/>
<rect x="710" y="359" width="3" height="6" fill="#ff0000"/>
<rect x="707" y="365" width="9" height="1" fill="#ff0000"/>
<rect x="708" y="366" width="7" height="2" fill="#ff0000"/>
<rect x="709" y="368" width="5" height="2" fill="#ff0000"/>
<rect x="710" y="370" width="3" height="2" fill="#ff0000"/>
<rect x="711" y="372" width="1" height="2" fill="#ff0000"/>
<rect x="3" y="319" width="1" height="95" fill="#000"/>
<rect x="719" y="319" width="1" height="95" fill="#000"/>
<rect x="3" y="413" width="717" height="1" fill="#000"/>
<rect x="3" y="319" width="8" height="1" fill="#000"/>
<rect x="418" y="319" width="302" height="1" fill="#000"/>
<text x="775.5" y="344" fill="#000" text-anchor="end">5</text>
<text x="775.5" y="370" fill="#000" text-anchor="end">0</text>
<text x="775.5" y="395" fill="#000" text-anchor="end">-5</text>
<line x1="4" x2="719" y1="444.5" y2="444.5" stroke="#000" stroke-dasharray="1 7" shape-rendering="crispEdges"/>
<rect x="719" y="444" width="5" height="1" fill="#000"/>
<line x1="4" x2="719" y1="484.5" y2="484.5" stroke="#000" stroke-dasharray="1 7" shape-rendering="crispEdges"/>
<rect x="719" y="484" width="5" height="1" fill="#000"/>
<line x1="4" x2="719" y1="524.5" y2="524.5" stroke="#000" stroke-dasharray="1 7" shape-rendering="crispEdges"/>
<rect x="719" y="524" width="5" height="1" fill="#000"/>
<line x1="4" x2="719" y1="564.5" y2="564.5" stroke="#000" stroke-dasharray="1 7" shape-rendering="crispEdges"/>
<rect x="719" y="564" width="5" height="1" fill="#000"/>
<line x1="4" x2="719" y1="604.5" y2="604.5" stroke="#000" stroke-dasharray="1 7" shape-rendering="crispEdges"/>
<rect x="719" y="604" width="5" height="1" fill="#000"/>
<line x1="4" x2="719" y1="644.5" y2="644.5" stroke="#000" stroke-dasharray="1 7" shape-rendering="crispEdges"/>
<rect x="719" y="644" width="5" height="1" fill="#000"/>
<line x1="4" x2="719" y1="683.5" y2="683.5" stroke="#000" stroke-dasharray="1 7" shape-rendering="crispEdges"/>
<rect x="719" y="683" width="5" height="1" fill="#000"/>
<line x1="4" x2="719" y1="723.5" y2="723.5" stroke="#000" stroke-dasharray="1 7" shape-rendering="crispEdges"/>
<rect x="719" y="723" width="5" height="1" fill="#000"/>
<line x1="8.5" x2="8.5" y1="431" y2="731" stroke="#000" stroke-dasharray="1 7" shape-rendering="crispEdges"/>
<polyline points="4,438.5 9,439.5 14,446 20,465.2 30.5,465.2 40.3,474.4 57,474.4 60,477.4 122.9,477.4 125.8,480.4 159.1,480.4 162.3,486.2 180.3,486.2 185.3,496.2 188.3,498.3 198.4,519.4 202.4,520.4 207.4,531.5 213.5,532.5 217.3,553.6 221.6,554.7 223.7,564 228.5,569.3 232,580.3 233.6,582.5 274,582.5 279,593.4 284.1,604.6 294.2,604.8 295.2,610.5 297.2,636.6 298.2,642.3 301.5,642.3 305.2,630.6 310,621.3 328.4,621.3 332.4,610.5 336.4,601.4 339.5,597.4 345.5,588.5 381.7,588.5 390.8,580.3 393.8,572.5 444.3,572.5 447.3,567.5 452.3,562.5 460.4,557.4 464.4,552.4 510.6,552.4 515.3,550.3 518.7,547.3 528,547.3 530.8,540.3 532.8,537.5 594.5,537.5 598.2,553 604.5,548.5 628.6,548.5 632,545.5 655.8,545.5 660.8,539.5 664,537.5 685,537.5 689,531 692.4,527.5 699.5,527.5 703.2,524.4 711.5,524.4" fill="none" stroke="#ff0000" stroke-width="1" shape-rendering="crispEdges"/>
<polyline points="6,503.3 18.8,503.3 21.5,505.8 24.8,515.2 28.9,529.9 30.9,533 92.8,533 96,527.6 98.3,516.5 100.1,505.3 101.4,504.4 126.2,504.4 128.9,505.9 131.6,510.6 136.3,526.2 141.7,526.5 143,530.8 149.7,538.8 153.1,545.5 160.5,556.3 164.1,564.5 168.1,574.9 171.5,587 175.5,599.1 178.9,609.8 182.2,616.6 221.1,616.6 225.2,620.5 233.2,623.2 236.4,647.8 237.8,663.9 241.1,700.8 242.4,715.5 243.1,725.3 305.1,725.3 306.4,720.9 308.4,709.6 312.4,709.3 315.8,706.5 338.2,706.5 340,694 342,680.6 344,665.2 345.3,658.5 349.4,658.2 352,649.5 363.5,649.3 366.8,644.5 382.2,644.5 385.6,635.7 390.3,635.2 393.2,611.5 426.2,611.5 428.2,603.8 430.2,599.6 495.3,599.6 496.5,592.6 498.6,579.2 500.6,577.6 503.9,575.8 506.6,571.8 509.3,570.3 544.2,570.3 546.2,571.8 548.9,573.7 612.5,573.7 617.5,569.9 645.4,569.9 650.1,567.2 652.8,564.6 676.3,564.6 678.3,555.5 697.1,555.5 702.5,552.5 711.5,552.5" fill="none" stroke="#009000" stroke-width="1" shape-rendering="crispEdges"/>
<rect x="4" y="496" width="3" height="5" fill="#000"/>
<rect x="7" y="501" width="3" height="3" fill="#000"/>
<rect x="11" y="490" width="3" height="14" fill="#000"/>
<rect x="12" y="491" width="1" height="12" fill="#fff"/>
<rect x="14" y="483" width="3" height="6" fill="#000"/>
<rect x="15" y="484" width="1" height="4" fill="#fff"/>
<rect x="18" y="483" width="3" height="11" fill="#000"/>
<rect x="22" y="493" width="3" height="21" fill="#000"/>
<rect x="25" y="513" width="3" height="19" fill="#000"/>
<rect x="29" y="530" width="3" height="2" fill="#000"/>
<rect x="33" y="530" width="3" height="1" fill="#000"/>
<rect x="36" y="508" width="3" height="23" fill="#000"/>
<rect x="37" y="509" width="1" height="21" fill="#fff"/>
<rect x="40" y="508" width="3" height="3" fill="#000"/>
<rect x="41" y="509" width="1" height="1" fill="#fff"/>
<rect x="44" y="498" width="3" height="13" fill="#000"/>
<rect x="45" y="499" width="1" height="11" fill="#fff"/>
<rect x="47" y="487" width="3" height="11" fill="#000"/>
<rect x="48" y="488" width="1" height="9" fill="#fff"/>
<rect x="51" y="481" width="3" height="7" fill="#000"/>
<rect x="52" y="482" width="1" height="5" fill="#fff"/>
<rect x="55" y="474" width="3" height="8" fill="#000"/>
<rect x="56" y="475" width="1" height="6" fill="#fff"/>
<rect x="58" y="474" width="3" height="4" fill="#000"/>
<rect x="59" y="475" width="1" height="2" fill="#fff"/>
<rect x="62" y="478" width="3" height="16" fill="#000"/>
<rect x="66" y="482" width="3" height="12" fill="#000"/>
<rect x="69" y="482" width="3" height="7" fill="#000"/>
<rect x="73" y="484" width="3" height="5" fill="#000"/>
<rect x="77" y="484" width="3" height="7" fill="#000"/>
<rect x="80" y="490" width="3" height="9" fill="#000"/>
<rect x="84" y="489" width="3" height="10" fill="#000"/>
<rect x="85" y="490" width="1" height="8" fill="#fff"/>
<rect x="88" y="484" width="3" height="6" fill="#000"/>
<rect x="89" y="485" width="1" height="4" fill="#fff"/>
<rect x="91" y="481" width="3" height="4" fill="#000"/>
<rect x="92" y="482" width="1" height="2" fill="#fff"/>
<rect x="95" y="481" width="3" height="12" fill="#000"/>
<rect x="99" y="483" width="3" height="10" fill="#000"/>
<rect x="102" y="483" width="3" height="2" fill="#000"/>
<rect x="106" y="483" width="3" height="24" fill="#000"/>
<rect x="110" y="498" width="3" height="9" fill="#000"/>
<rect x="113" y="496" width="3" height="3" fill="#000"/>
<rect x="114" y="497" width="1" height="1" fill="#fff"/>
<rect x="117" y="495" width="3" height="2" fill="#000"/>
<rect x="121" y="492" width="3" height="4" fill="#000"/>
<rect x="122" y="493" width="1" height="2" fill="#fff"/>
<rect x="124" y="491" width="3" height="3" fill="#000"/>
<rect x="125" y="492" width="1" height="1" fill="#fff"/>
<rect x="128" y="493" width="3" height="21" fill="#000"/>
<rect x="132" y="513" width="3" height="6" fill="#000"/>
<rect x="135" y="518" width="3" height="8" fill="#000"/>
<rect x="139" y="524" width="3" height="2" fill="#000"/>
<rect x="143" y="525" width="3" height="17" fill="#000"/>
<rect x="146" y="524" width="3" height="18" fill="#000"/>
<rect x="147" y="525" width="1" height="16" fill="#fff"/>
<rect x="150" y="524" width="3" height="20" fill="#000"/>
<rect x="154" y="544" width="3" height="13" fill="#000"/>
<rect x="157" y="545" width="3" height="12" fill="#000"/>
<rect x="161" y="545" width="3" height="20" fill="#000"/>
<rect x="165" y="558" width="3" height="7" fill="#000"/>
<rect x="168" y="558" width="3" height="30" fill="#000"/>
<rect x="172" y="587" width="3" height="8" fill="#000"/>
<rect x="176" y="594" width="3" height="15" fill="#000"/>
<rect x="179" y="608" width="3" height="16" fill="#000"/>
<rect x="183" y="602" width="3" height="22" fill="#000"/>
<rect x="184" y="603" width="1" height="20" fill="#fff"/>
<rect x="187" y="594" width="3" height="8" fill="#000"/>
<rect x="188" y="595" width="1" height="6" fill="#fff"/>
<rect x="190" y="594" width="3" height="16" fill="#000"/>
<rect x="194" y="598" width="3" height="12" fill="#000"/>
<rect x="198" y="597" width="3" height="2" fill="#000"/>
<rect x="201" y="597" width="3" height="1" fill="#000"/>
<rect x="205" y="579" width="3" height="19" fill="#000"/>
<rect x="206" y="580" width="1" height="17" fill="#fff"/>
<rect x="209" y="577" width="3" height="3" fill="#000"/>
<rect x="210" y="578" width="1" height="1" fill="#fff"/>
<rect x="212" y="577" width="3" height="13" fill="#000"/>
<rect x="216" y="589" width="3" height="4" fill="#000"/>
<rect x="220" y="592" width="3" height="24" fill="#000"/>
<rect x="223" y="608" width="3" height="8" fill="#000"/>
<rect x="227" y="605" width="3" height="4" fill="#000"/>
<rect x="228" y="606" width="1" height="2" fill="#fff"/>
<rect x="230" y="597" width="3" height="9" fill="#000"/>
<rect x="231" y="598" width="1" height="7" fill="#fff"/>
<rect x="234" y="597" width="3" height="51" fill="#000"/>
<rect x="238" y="647" width="3" height="62" fill="#000"/>
<rect x="241" y="708" width="3" height="6" fill="#000"/>
<rect x="245" y="713" width="3" height="5" fill="#000"/>
<rect x="249" y="656" width="3" height="62" fill="#000"/>
<rect x="250" y="657" width="1" height="60" fill="#fff"/>
<rect x="252" y="656" width="3" height="34" fill="#000"/>
<rect x="253" y="657" width="1" height="32" fill="#fff"/>
<rect x="256" y="672" width="3" height="18" fill="#000"/>
<rect x="257" y="673" width="1" height="16" fill="#fff"/>
<rect x="260" y="665" width="3" height="8" fill="#000"/>
<rect x="261" y="666" width="1" height="6" fill="#fff"/>
<rect x="263" y="665" width="3" height="2" fill="#000"/>
<rect x="267" y="666" width="3" height="24" fill="#000"/>
<rect x="271" y="687" width="3" height="3" fill="#000"/>
<rect x="274" y="687" width="3" height="24" fill="#000"/>
<rect x="278" y="686" width="3" height="25" fill="#000"/>
<rect x="279" y="687" width="1" height="23" fill="#fff"/>
<rect x="282" y="670" width="3" height="17" fill="#000"/>
<rect x="283" y="671" width="1" height="15" fill="#fff"/>
<rect x="285" y="650" width="3" height="21" fill="#000"/>
<rect x="286" y="651" width="1" height="19" fill="#fff"/>
<rect x="289" y="643" width="3" height="8" fill="#000"/>
<rect x="290" y="644" width="1" height="6" fill="#fff"/>
<rect x="293" y="642" width="3" height="2" fill="#000"/>
<rect x="296" y="638" width="3" height="5" fill="#000"/>
<rect x="297" y="639" width="1" height="3" fill="#fff"/>
<rect x="300" y="636" width="3" height="3" fill="#000"/>
<rect x="301" y="637" width="1" height="1" fill="#fff"/>
<rect x="304" y="631" width="3" height="6" fill="#000"/>
<rect x="305" y="632" width="1" height="4" fill="#fff"/>
<rect x="307" y="614" width="3" height="18" fill="#000"/>
<rect x="308" y="615" width="1" height="16" fill="#fff"/>
<rect x="311" y="614" width="3" height="7" fill="#000"/>
<rect x="312" y="615" width="1" height="5" fill="#fff"/>
<rect x="315" y="621" width="3" height="7" fill="#000"/>
<rect x="318" y="628" width="3" height="16" fill="#000"/>
<rect x="322" y="637" width="3" height="7" fill="#000"/>
<rect x="326" y="638" width="3" height="2" fill="#000"/>
<rect x="329" y="607" width="3" height="33" fill="#000"/>
<rect x="330" y="608" width="1" height="31" fill="#fff"/>
<rect x="333" y="598" width="3" height="10" fill="#000"/>
<rect x="334" y="599" width="1" height="8" fill="#fff"/>
<rect x="337" y="597" width="3" height="2" fill="#000"/>
<rect x="340" y="593" width="3" height="5" fill="#000"/>
<rect x="341" y="594" width="1" height="3" fill="#fff"/>
<rect x="344" y="584" width="3" height="10" fill="#000"/>
<rect x="345" y="585" width="1" height="8" fill="#fff"/>
<rect x="348" y="582" width="3" height="2" fill="#000"/>
<rect x="351" y="582" width="3" height="6" fill="#000"/>
<rect x="355" y="587" width="3" height="17" fill="#000"/>
<rect x="359" y="603" width="3" height="2" fill="#000"/>
<rect x="362" y="604" width="3" height="8" fill="#000"/>
<rect x="366" y="590" width="3" height="22" fill="#000"/>
<rect x="367" y="591" width="1" height="20" fill="#fff"/>
<rect x="370" y="590" width="3" height="6" fill="#000"/>
<rect x="371" y="591" width="1" height="4" fill="#fff"/>
<rect x="373" y="592" width="3" height="4" fill="#000"/>
<rect x="374" y="593" width="1" height="2" fill="#fff"/>
<rect x="377" y="592" width="3" height="1" fill="#000"/>
<rect x="381" y="587" width="3" height="6" fill="#000"/>
<rect x="382" y="588" width="1" height="4" fill="#fff"/>
<rect x="384" y="582" width="3" height="6" fill="#000"/>
<rect x="385" y="583" width="1" height="4" fill="#fff"/>
<rect x="388" y="580" width="3" height="3" fill="#000"/>
<rect x="389" y="581" width="1" height="1" fill="#fff"/>
<rect x="392" y="580" width="3" height="7" fill="#000"/>
<rect x="395" y="576" width="3" height="11" fill="#000"/>
<rect x="396" y="577" width="1" height="9" fill="#fff"/>
<rect x="399" y="575" width="3" height="2" fill="#000"/>
<rect x="403" y="569" width="3" height="7" fill="#000"/>
<rect x="404" y="570" width="1" height="5" fill="#fff"/>
<rect x="406" y="569" width="3" height="24" fill="#000"/>
<rect x="410" y="589" width="3" height="4" fill="#000"/>
<rect x="414" y="589" width="3" height="15" fill="#000"/>
<rect x="417" y="589" width="3" height="15" fill="#000"/>
<rect x="418" y="590" width="1" height="13" fill="#fff"/>
<rect x="421" y="589" width="3" height="10" fill="#000"/>
<rect x="422" y="590" width="1" height="8" fill="#fff"/>
<rect x="425" y="598" width="3" height="4" fill="#000"/>
<rect x="428" y="601" width="3" height="3" fill="#000"/>
<rect x="432" y="593" width="3" height="11" fill="#000"/>
<rect x="433" y="594" width="1" height="9" fill="#fff"/>
<rect x="436" y="580" width="3" height="14" fill="#000"/>
<rect x="437" y="581" width="1" height="12" fill="#fff"/>
<rect x="439" y="580" width="3" height="2" fill="#000"/>
<rect x="443" y="573" width="3" height="9" fill="#000"/>
<rect x="444" y="574" width="1" height="7" fill="#fff"/>
<rect x="447" y="567" width="3" height="7" fill="#000"/>
<rect x="448" y="568" width="1" height="5" fill="#fff"/>
<rect x="450" y="559" width="3" height="9" fill="#000"/>
<rect x="451" y="560" width="1" height="7" fill="#fff"/>
<rect x="454" y="559" width="3" height="3" fill="#000"/>
<rect x="455" y="560" width="1" height="1" fill="#fff"/>
<rect x="458" y="557" width="3" height="5" fill="#000"/>
<rect x="459" y="558" width="1" height="3" fill="#fff"/>
<rect x="461" y="547" width="3" height="11" fill="#000"/>
<rect x="462" y="548" width="1" height="9" fill="#fff"/>
<rect x="465" y="547" width="3" height="10" fill="#000"/>
<rect x="466" y="548" width="1" height="8" fill="#fff"/>
<rect x="469" y="556" width="3" height="2" fill="#000"/>
<rect x="472" y="556" width="3" height="14" fill="#000"/>
<rect x="476" y="563" width="3" height="7" fill="#000"/>
<rect x="480" y="563" width="3" height="7" fill="#000"/>
<rect x="483" y="568" width="3" height="2" fill="#000"/>
<rect x="487" y="569" width="3" height="3" fill="#000"/>
<rect x="490" y="568" width="3" height="4" fill="#000"/>
<rect x="491" y="569" width="1" height="2" fill="#fff"/>
<rect x="494" y="562" width="3" height="7" fill="#000"/>
<rect x="495" y="563" width="1" height="5" fill="#fff"/>
<rect x="498" y="562" width="3" height="3" fill="#000"/>
<rect x="499" y="563" width="1" height="1" fill="#fff"/>
<rect x="501" y="563" width="3" height="1" fill="#000"/>
<rect x="505" y="561" width="3" height="3" fill="#000"/>
<rect x="506" y="562" width="1" height="1" fill="#fff"/>
<rect x="509" y="553" width="3" height="9" fill="#000"/>
<rect x="510" y="554" width="1" height="7" fill="#fff"/>
<rect x="512" y="549" width="3" height="5" fill="#000"/>
<rect x="513" y="550" width="1" height="3" fill="#fff"/>
<rect x="516" y="546" width="3" height="4" fill="#000"/>
<rect x="517" y="547" width="1" height="2" fill="#fff"/>
<rect x="520" y="546" width="3" height="2" fill="#000"/>
<rect x="523" y="547" width="3" height="4" fill="#000"/>
<rect x="527" y="550" width="3" height="4" fill="#000"/>
<rect x="531" y="553" width="3" height="2" fill="#000"/>
<rect x="534" y="554" width="3" height="20" fill="#000"/>
<rect x="538" y="557" width="3" height="17" fill="#000"/>
<rect x="542" y="557" width="3" height="6" fill="#000"/>
<rect x="545" y="562" width="3" height="13" fill="#000"/>
<rect x="549" y="573" width="3" height="4" fill="#000"/>
<rect x="553" y="567" width="3" height="10" fill="#000"/>
<rect x="554" y="568" width="1" height="8" fill="#fff"/>
<rect x="556" y="567" width="3" height="3" fill="#000"/>
<rect x="557" y="568" width="1" height="1" fill="#fff"/>
<rect x="560" y="559" width="3" height="11" fill="#000"/>
<rect x="561" y="560" width="1" height="9" fill="#fff"/>
<rect x="564" y="553" width="3" height="7" fill="#000"/>
<rect x="565" y="554" width="1" height="5" fill="#fff"/>
<rect x="567" y="553" width="3" height="2" fill="#000"/>
<rect x="571" y="554" width="3" height="3" fill="#000"/>
<rect x="575" y="556" width="3" height="1" fill="#000"/>
<rect x="578" y="556" width="3" height="6" fill="#000"/>
<rect x="582" y="562" width="3" height="3" fill="#000"/>
<rect x="586" y="564" width="3" height="7" fill="#000"/>
<rect x="589" y="553" width="3" height="18" fill="#000"/>
<rect x="590" y="554" width="1" height="16" fill="#fff"/>
<rect x="593" y="553" width="3" height="4" fill="#000"/>
<rect x="594" y="554" width="1" height="2" fill="#fff"/>
<rect x="597" y="553" width="3" height="4" fill="#000"/>
<rect x="598" y="554" width="1" height="2" fill="#fff"/>
<rect x="600" y="549" width="3" height="5" fill="#000"/>
<rect x="601" y="550" width="1" height="3" fill="#fff"/>
<rect x="604" y="546" width="3" height="4" fill="#000"/>
<rect x="605" y="547" width="1" height="2" fill="#fff"/>
<rect x="608" y="546" width="3" height="9" fill="#000"/>
<rect x="611" y="554" width="3" height="8" fill="#000"/>
<rect x="615" y="555" width="3" height="7" fill="#000"/>
<rect x="619" y="546" width="3" height="10" fill="#000"/>
<rect x="620" y="547" width="1" height="8" fill="#fff"/>
<rect x="622" y="546" width="3" height="4" fill="#000"/>
<rect x="623" y="547" width="1" height="2" fill="#fff"/>
<rect x="626" y="546" width="3" height="4" fill="#000"/>
<rect x="627" y="547" width="1" height="2" fill="#fff"/>
<rect x="630" y="543" width="3" height="4" fill="#000"/>
<rect x="631" y="544" width="1" height="2" fill="#fff"/>
<rect x="633" y="543" width="3" height="17" fill="#000"/>
<rect x="637" y="552" width="3" height="8" fill="#000"/>
<rect x="641" y="552" width="3" height="1" fill="#000"/>
<rect x="644" y="547" width="3" height="6" fill="#000"/>
<rect x="645" y="548" width="1" height="4" fill="#fff"/>
<rect x="648" y="547" width="3" height="3" fill="#000"/>
<rect x="649" y="548" width="1" height="1" fill="#fff"/>
<rect x="652" y="548" width="3" height="2" fill="#000"/>
<rect x="655" y="544" width="3" height="6" fill="#000"/>
<rect x="656" y="545" width="1" height="4" fill="#fff"/>
<rect x="659" y="538" width="3" height="7" fill="#000"/>
<rect x="660" y="539" width="1" height="5" fill="#fff"/>
<rect x="663" y="533" width="3" height="6" fill="#000"/>
<rect x="664" y="534" width="1" height="4" fill="#fff"/>
<rect x="666" y="533" width="3" height="7" fill="#000"/>
<rect x="670" y="539" width="3" height="4" fill="#000"/>
<rect x="674" y="542" width="3" height="8" fill="#000"/>
<rect x="677" y="541" width="3" height="9" fill="#000"/>
<rect x="678" y="542" width="1" height="7" fill="#fff"/>
<rect x="681" y="538" width="3" height="4" fill="#000"/>
<rect x="682" y="539" width="1" height="2" fill="#fff"/>
<rect x="685" y="534" width="3" height="5" fill="#000"/>
<rect x="686" y="535" width="1" height="3" fill="#fff"/>
<rect x="688" y="529" width="3" height="6" fill="#000"/>
<rect x="689" y="530" width="1" height="4" fill="#fff"/>
<rect x="692" y="528" width="3" height="2" fill="#000"/>
<rect x="696" y="527" width="3" height="2" fill="#000"/>
<rect x="699" y="525" width="3" height="4" fill="#000"/>
<rect x="700" y="526" width="1" height="2" fill="#fff"/>
<rect x="703" y="525" width="3" height="5" fill="#000"/>
<rect x="707" y="529" width="3" height="15" fill="#000"/>
<rect x="710" y="543" width="3" height="4" fill="#000"/>
<rect x="18" y="461" width="3" height="6" fill="#ff0000"/>
<rect x="15" y="467" width="9" height="1" fill="#ff0000"/>
<rect x="16" y="468" width="7" height="2" fill="#ff0000"/>
<rect x="17" y="470" width="5" height="2" fill="#ff0000"/>
<rect x="18" y="472" width="3" height="2" fill="#ff0000"/>
<rect x="19" y="474" width="1" height="2" fill="#ff0000"/>
<rect x="62" y="456" width="3" height="6" fill="#ff0000"/>
<rect x="59" y="462" width="9" height="1" fill="#ff0000"/>
<rect x="60" y="463" width="7" height="2" fill="#ff0000"/>
<rect x="61" y="465" width="5" height="2" fill="#ff0000"/>
<rect x="62" y="467" width="3" height="2" fill="#ff0000"/>
<rect x="63" y="469" width="1" height="2" fill="#ff0000"/>
<rect x="95" y="459" width="3" height="6" fill="#ff0000"/>
<rect x="92" y="465" width="9" height="1" fill="#ff0000"/>
<rect x="93" y="466" width="7" height="2" fill="#ff0000"/>
<rect x="94" y="468" width="5" height="2" fill="#ff0000"/>
<rect x="95" y="470" width="3" height="2" fill="#ff0000"/>
<rect x="96" y="472" width="1" height="2" fill="#ff0000"/>
<rect x="128" y="471" width="3" height="6" fill="#ff0000"/>
<rect x="125" y="477" width="9" height="1" fill="#ff0000"/>
<rect x="126" y="478" width="7" height="2" fill="#ff0000"/>
<rect x="127" y="480" width="5" height="2" fill="#ff0000"/>
<rect x="128" y="482" width="3" height="2" fill="#ff0000"/>
<rect x="129" y="484" width="1" height="2" fill="#ff0000"/>
<rect x="190" y="572" width="3" height="6" fill="#ff0000"/>
<rect x="187" y="578" width="9" height="1" fill="#ff0000"/>
<rect x="188" y="579" width="7" height="2" fill="#ff0000"/>
<rect x="189" y="581" width="5" height="2" fill="#ff0000"/>
<rect x="190" y="583" width="3" height="2" fill="#ff0000"/>
<rect x="191" y="585" width="1" height="2" fill="#ff0000"/>
<rect x="212" y="555" width="3" height="6" fill="#ff0000"/>
<rect x="209" y="561" width="9" height="1" fill="#ff0000"/>
<rect x="210" y="562" width="7" height="2" fill="#ff0000"/>
<rect x="211" y="564" width="5" height="2" fill="#ff0000"/>
<rect x="212" y="566" width="3" height="2" fill="#ff0000"/>
<rect x="213" y="568" width="1" height="2" fill="#ff0000"/>
<rect x="234" y="575" width="3" height="6" fill="#ff0000"/>
<rect x="231" y="581" width="9" height="1" fill="#ff0000"/>
<rect x="232" y="582" width="7" height="2" fill="#ff0000"/>
<rect x="233" y="584" width="5" height="2" fill="#ff0000"/>
<rect x="234" y="586" width="3" height="2" fill="#ff0000"/>
<rect x="235" y="588" width="1" height="2" fill="#ff0000"/>
<rect x="267" y="644" width="3" height="6" fill="#ff0000"/>
<rect x="264" y="650" width="9" height="1" fill="#ff0000"/>
<rect x="265" y="651" width="7" height="2" fill="#ff0000"/>
<rect x="266" y="653" width="5" height="2" fill="#ff0000"/>
<rect x="267" y="655" width="3" height="2" fill="#ff0000"/>
<rect x="268" y="657" width="1" height="2" fill="#ff0000"/>
<rect x="315" y="599" width="3" height="6" fill="#ff0000"/>
<rect x="312" y="605" width="9" height="1" fill="#ff0000"/>
<rect x="313" y="606" width="7" height="2" fill="#ff0000"/>
<rect x="314" y="608" width="5" height="2" fill="#ff0000"/>
<rect x="315" y="610" width="3" height="2" fill="#ff0000"/>
<rect x="316" y="612" width="1" height="2" fill="#ff0000"/>
<rect x="351" y="560" width="3" height="6" fill="#ff0000"/>
<rect x="348" y="566" width="9" height="1" fill="#ff0000"/>
<rect x="349" y="567" width="7" height="2" fill="#ff0000"/>
<rect x="350" y="569" width="5" height="2" fill="#ff0000"/>
<rect x="351" y="571" width="3" height="2" fill="#ff0000"/>
<rect x="352" y="573" width="1" height="2" fill="#ff0000"/>
<rect x="392" y="558" width="3" height="6" fill="#ff0000"/>
<rect x="389" y="564" width="9" height="1" fill="#ff0000"/>
<rect x="390" y="565" width="7" height="2" fill="#ff0000"/>
<rect x="391" y="567" width="5" height="2" fill="#ff0000"/>
<rect x="392" y="569" width="3" height="2" fill="#ff0000"/>
<rect x="393" y="571" width="1" height="2" fill="#ff0000"/>
<rect x="406" y="547" width="3" height="6" fill="#ff0000"/>
<rect x="403" y="553" width="9" height="1" fill="#ff0000"/>
<rect x="404" y="554" width="7" height="2" fill="#ff0000"/>
<rect x="405" y="556" width="5" height="2" fill="#ff0000"/>
<rect x="406" y="558" width="3" height="2" fill="#ff0000"/>
<rect x="407" y="560" width="1" height="2" fill="#ff0000"/>
<rect x="425" y="576" width="3" height="6" fill="#ff0000"/>
<rect x="422" y="582" width="9" height="1" fill="#ff0000"/>
<rect x="423" y="583" width="7" height="2" fill="#ff0000"/>
<rect x="424" y="585" width="5" height="2" fill="#ff0000"/>
<rect x="425" y="587" width="3" height="2" fill="#ff0000"/>
<rect x="426" y="589" width="1" height="2" fill="#ff0000"/>
<rect x="472" y="534" width="3" height="6" fill="#ff0000"/>
<rect x="469" y="540" width="9" height="1" fill="#ff0000"/>
<rect x="470" y="541" width="7" height="2" fill="#ff0000"/>
<rect x="471" y="543" width="5" height="2" fill="#ff0000"/>
<rect x="472" y="545" width="3" height="2" fill="#ff0000"/>
<rect x="473" y="547" width="1" height="2" fill="#ff0000"/>
<rect x="523" y="525" width="3" height="6" fill="#ff0000"/>
<rect x="520" y="531" width="9" height="1" fill="#ff0000"/>
<rect x="521" y="532" width="7" height="2" fill="#ff0000"/>
<rect x="522" y="534" width="5" height="2" fill="#ff0000"/>
<rect x="523" y="536" width="3" height="2" fill="#ff0000"/>
<rect x="524" y="538" width="1" height="2" fill="#ff0000"/>
<rect x="571" y="532" width="3" height="6" fill="#ff0000"/>
<rect x="568" y="538" width="9" height="1" fill="#ff0000"/>
<rect x="569" y="539" width="7" height="2" fill="#ff0000"/>
<rect x="570" y="541" width="5" height="2" fill="#ff0000"/>
<rect x="571" y="543" width="3" height="2" fill="#ff0000"/>
<rect x="572" y="545" width="1" height="2" fill="#ff0000"/>
<rect x="608" y="524" width="3" height="6" fill="#ff0000"/>
<rect x="605" y="530" width="9" height="1" fill="#ff0000"/>
<rect x="606" y="531" width="7" height="2" fill="#ff0000"/>
<rect x="607" y="533" width="5" height="2" fill="#ff0000"/>
<rect x="608" y="535" width="3" height="2" fill="#ff0000"/>
<rect x="609" y="537" width="1" height="2" fill="#ff0000"/>
<rect x="633" y="521" width="3" height="6" fill="#ff0000"/>
<rect x="630" y="527" width="9" height="1" fill="#ff0000"/>
<rect x="631" y="528" width="7" height="2" fill="#ff0000"/>
<rect x="632" y="530" width="5" height="2" fill="#ff0000"/>
<rect x="633" y="532" width="3" height="2" fill="#ff0000"/>
<rect x="634" y="534" width="1" height="2" fill="#ff0000"/>
<rect x="652" y="527" width="3" height="6" fill="#ff0000"/>
<rect x="649" y="533" width="9" height="1" fill="#ff0000"/>
<rect x="650" y="534" width="7" height="2" fill="#ff0000"/>
<rect x="651" y="536" width="5" height="2" fill="#ff0000"/>
<rect x="652" y="538" width="3" height="2" fill="#ff0000"/>
<rect x="653" y="540" width="1" height="2" fill="#ff0000"/>
<rect x="666" y="511" width="3" height="6" fill="#ff0000"/>
<rect x="663" y="517" width="9" height="1" fill="#ff0000"/>
<rect x="664" y="518" width="7" height="2" fill="#ff0000"/>
<rect x="665" y="520" width="5" height="2" fill="#ff0000"/>
<rect x="666" y="522" width="3" height="2" fill="#ff0000"/>
<rect x="667" y="524" width="1" height="2" fill="#ff0000"/>
<rect x="703" y="503" width="3" height="6" fill="#ff0000"/>
<rect x="700" y="509" width="9" height="1" fill="#ff0000"/>
<rect x="701" y="510" width="7" height="2" fill="#ff0000"/>
<rect x="702" y="512" width="5" height="2" fill="#ff0000"/>
<rect x="703" y="514" width="3" height="2" fill="#ff0000"/>
<rect x="704" y="516" width="1" height="2" fill="#ff0000"/>
<rect x="12" y="511" width="1" height="2" fill="#009000"/>
<rect x="11" y="513" width="3" height="2" fill="#009000"/>
<rect x="10" y="515" width="5" height="2" fill="#009000"/>
<rect x="9" y="517" width="7" height="2" fill="#009000"/>
<rect x="8" y="519" width="9" height="1" fill="#009000"/>
<rect x="11" y="520" width="3" height="6" fill="#009000"/>
<rect x="34" y="537" width="1" height="2" fill="#009000"/>
<rect x="33" y="539" width="3" height="2" fill="#009000"/>
<rect x="32" y="541" width="5" height="2" fill="#009000"/>
<rect x="31" y="543" width="7" height="2" fill="#009000"/>
<rect x="30" y="545" width="9" height="1" fill="#009000"/>
<rect x="33" y="546" width="3" height="6" fill="#009000"/>
<rect x="85" y="505" width="1" height="2" fill="#009000"/>
<rect x="84" y="507" width="3" height="2" fill="#009000"/>
<rect x="83" y="509" width="5" height="2" fill="#009000"/>
<rect x="82" y="511" width="7" height="2" fill="#009000"/>
<rect x="81" y="513" width="9" height="1" fill="#009000"/>
<rect x="84" y="514" width="3" height="6" fill="#009000"/>
<rect x="147" y="548" width="1" height="2" fill="#009000"/>
<rect x="146" y="550" width="3" height="2" fill="#009000"/>
<rect x="145" y="552" width="5" height="2" fill="#009000"/>
<rect x="144" y="554" width="7" height="2" fill="#009000"/>
<rect x="143" y="556" width="9" height="1" fill="#009000"/>
<rect x="146" y="557" width="3" height="6" fill="#009000"/>
<rect x="184" y="630" width="1" height="2" fill="#009000"/>
<rect x="183" y="632" width="3" height="2" fill="#009000"/>
<rect x="182" y="634" width="5" height="2" fill="#009000"/>
<rect x="181" y="636" width="7" height="2" fill="#009000"/>
<rect x="180" y="638" width="9" height="1" fill="#009000"/>
<rect x="183" y="639" width="3" height="6" fill="#009000"/>
<rect x="228" y="615" width="1" height="2" fill="#009000"/>
<rect x="227" y="617" width="3" height="2" fill="#009000"/>
<rect x="226" y="619" width="5" height="2" fill="#009000"/>
<rect x="225" y="621" width="7" height="2" fill="#009000"/>
<rect x="224" y="623" width="9" height="1" fill="#009000"/>
<rect x="227" y="624" width="3" height="6" fill="#009000"/>
<rect x="250" y="724" width="1" height="2" fill="#009000"/>
<rect x="249" y="726" width="3" height="2" fill="#009000"/>
<rect x="248" y="728" width="5" height="2" fill="#009000"/>
<rect x="247" y="730" width="7" height="2" fill="#009000"/>
<rect x="246" y="732" width="9" height="1" fill="#009000"/>
<rect x="249" y="733" width="3" height="6" fill="#009000"/>
<rect x="279" y="717" width="1" height="2" fill="#009000"/>
<rect x="278" y="719" width="3" height="2" fill="#009000"/>
<rect x="277" y="721" width="5" height="2" fill="#009000"/>
<rect x="276" y="723" width="7" height="2" fill="#009000"/>
<rect x="275" y="725" width="9" height="1" fill="#009000"/>
<rect x="278" y="726" width="3" height="6" fill="#009000"/>
<rect x="330" y="646" width="1" height="2" fill="#009000"/>
<rect x="329" y="648" width="3" height="2" fill="#009000"/>
<rect x="328" y="650" width="5" height="2" fill="#009000"/>
<rect x="327" y="652" width="7" height="2" fill="#009000"/>
<rect x="326" y="654" width="9" height="1" fill="#009000"/>
<rect x="329" y="655" width="3" height="6" fill="#009000"/>
<rect x="367" y="618" width="1" height="2" fill="#009000"/>
<rect x="366" y="620" width="3" height="2" fill="#009000"/>
<rect x="365" y="622" width="5" height="2" fill="#009000"/>
<rect x="364" y="624" width="7" height="2" fill="#009000"/>
<rect x="363" y="626" width="9" height="1" fill="#009000"/>
<rect x="366" y="627" width="3" height="6" fill="#009000"/>
<rect x="418" y="610" width="1" height="2" fill="#009000"/>
<rect x="417" y="612" width="3" height="2" fill="#009000"/>
<rect x="416" y="614" width="5" height="2" fill="#009000"/>
<rect x="415" y="616" width="7" height="2" fill="#009000"/>
<rect x="414" y="618" width="9" height="1" fill="#009000"/>
<rect x="417" y="619" width="3" height="6" fill="#009000"/>
<rect x="433" y="610" width="1" height="2" fill="#009000"/>
<rect x="432" y="612" width="3" height="2" fill="#009000"/>
<rect x="431" y="614" width="5" height="2" fill="#009000"/>
<rect x="430" y="616" width="7" height="2" fill="#009000"/>
<rect x="429" y="618" width="9" height="1" fill="#009000"/>
<rect x="432" y="619" width="3" height="6" fill="#009000"/>
<rect x="491" y="578" width="1" height="2" fill="#009000"/>
<rect x="490" y="580" width="3" height="2" fill="#009000"/>
<rect x="489" y="582" width="5" height="2" fill="#009000"/>
<rect x="488" y="584" width="7" height="2" fill="#009000"/>
<rect x="487" y="586" width="9" height="1" fill="#009000"/>
<rect x="490" y="587" width="3" height="6" fill="#009000"/>
<rect x="554" y="583" width="1" height="2" fill="#009000"/>
<rect x="553" y="585" width="3" height="2" fill="#009000"/>
<rect x="552" y="587" width="5" height="2" fill="#009000"/>
<rect x="551" y="589" width="7" height="2" fill="#009000"/>
<rect x="550" y="591" width="9" height="1" fill="#009000"/>
<rect x="553" y="592" width="3" height="6" fill="#009000"/>
<rect x="590" y="577" width="1" height="2" fill="#009000"/>
<rect x="589" y="579" width="3" height="2" fill="#009000"/>
<rect x="588" y="581" width="5" height="2" fill="#009000"/>
<rect x="587" y="583" width="7" height="2" fill="#009000"/>
<rect x="586" y="585" width="9" height="1" fill="#009000"/>
<rect x="589" y="586" width="3" height="6" fill="#009000"/>
<rect x="620" y="562" width="1" height="2" fill="#009000"/>
<rect x="619" y="564" width="3" height="2" fill="#009000"/>
<rect x="618" y="566" width="5" height="2" fill="#009000"/>
<rect x="617" y="568" width="7" height="2" fill="#009000"/>
<rect x="616" y="570" width="9" height="1" fill="#009000"/>
<rect x="619" y="571" width="3" height="6" fill="#009000"/>
<rect x="678" y="556" width="1" height="2" fill="#009000"/>
<rect x="677" y="558" width="3" height="2" fill="#009000"/>
<rect x="676" y="560" width="5" height="2" fill="#009000"/>
<rect x="675" y="562" width="7" height="2" fill="#009000"/>
<rect x="674" y="564" width="9" height="1" fill="#009000"/>
<rect x="677" y="565" width="3" height="6" fill="#009000"/>
<rect x="3" y="423" width="1" height="309" fill="#000"/>
<rect x="719" y="423" width="1" height="309" fill="#000"/>
<rect x="3" y="731" width="717" height="1" fill="#000"/>
<rect x="3" y="423" width="8" height="1" fill="#000"/>
<rect x="431" y="423" width="289" height="1" fill="#000"/>
<rect x="8" y="731" width="1" height="8" fill="#000"/>
<text x="12" y="743" fill="#000" text-anchor="start" textLength="27.2">2025</text>
<rect x="81" y="731" width="1" height="8" fill="#000"/>
<text x="85" y="743" fill="#000" text-anchor="start">Feb</text>
<rect x="151" y="731" width="1" height="8" fill="#000"/>
<text x="155" y="743" fill="#000" text-anchor="start">Mar</text>
<rect x="228" y="731" width="1" height="8" fill="#000"/>
<text x="232" y="743" fill="#000" text-anchor="start">Apr</text>
<rect x="305" y="731" width="1" height="8" fill="#000"/>
<text x="309" y="743" fill="#000" text-anchor="start">May</text>
<rect x="382" y="731" width="1" height="8" fill="#000"/>
<text x="386" y="743" fill="#000" text-anchor="start">Jun</text>
<rect x="455" y="731" width="1" height="8" fill="#000"/>
<text x="459" y="743" fill="#000" text-anchor="start">Jul</text>
<rect x="535" y="731" width="1" height="8" fill="#000"/>
<text x="539" y="743" fill="#000" text-anchor="start">Aug</text>
<rect x="612" y="731" width="1" height="8" fill="#000"/>
<text x="616" y="743" fill="#000" text-anchor="start">Sep</text>
<rect x="689" y="731" width="1" height="8" fill="#000"/>
<text x="693" y="743" fill="#000" text-anchor="start">Oct</text>
<text x="775.5" y="448" fill="#000" text-anchor="end">60</text>
<text x="775.5" y="488" fill="#000" text-anchor="end">58</text>
<text x="775.5" y="528" fill="#000" text-anchor="end">56</text>
<text x="775.5" y="568" fill="#000" text-anchor="end">54</text>
<text x="775.5" y="608" fill="#000" text-anchor="end">52</text>
<text x="775.5" y="648" fill="#000" text-anchor="end">50</text>
<text x="775.5" y="687" fill="#000" text-anchor="end">48</text>
<text x="775.5" y="727" fill="#000" text-anchor="end">46</text>
<rect x="10" y="0" width="71" height="14" fill="#fff"/>
<text x="10" y="11" textLength="66" lengthAdjust="spacing" xml:space="preserve"><tspan fill="#000">XPAY - Daily</tspan></text>
<rect x="79.2" y="0" width="353.8" height="14" fill="#fff"/>
<text x="79.2" y="11" textLength="352.8" lengthAdjust="spacing" xml:space="preserve"><tspan fill="#000">2025-10-09 Open 55.01, Hi 55.01, Lo 54.78, Close 54.92 (-0.2%)</tspan></text>
<rect x="10" y="14" width="559" height="14" fill="#fff"/>
<text x="10" y="25" textLength="558" lengthAdjust="spacing" xml:space="preserve"><tspan fill="#ff0000">100%</tspan><tspan fill="#000"> = 58.64, </tspan><tspan fill="#ff00ff">78.6%</tspan><tspan fill="#000"> = 55.71, </tspan><tspan fill="#8fa3bd">61.8%</tspan><tspan fill="#000"> = 53.90, </tspan><tspan fill="#0000ff">50%</tspan><tspan fill="#000"> = 52.44, </tspan><tspan fill="#8fa3bd">38.2%</tspan><tspan fill="#000"> = 50.98, </tspan><tspan fill="#ff00ff">23.6%</tspan><tspan fill="#000"> = 48.89, </tspan><tspan fill="#009000">0%</tspan><tspan fill="#000"> = 46.24</tspan></text>
<rect x="10" y="314" width="40" height="14" fill="#fff"/>
<text x="10" y="325" textLength="37" lengthAdjust="spacing" xml:space="preserve"><tspan fill="#000">XPAY -</tspan></text>
<rect x="49" y="314" width="368" height="14" fill="#fff"/>
<text x="49" y="325" textLength="367" lengthAdjust="spacing" xml:space="preserve"><tspan fill="#8b8000">ShortPds</tspan><tspan fill="#000"> = 0.71, </tspan><tspan fill="#8b8000">ShortPds</tspan><tspan fill="#000"> = 0.87, </tspan><tspan fill="#0000ff">LongPds</tspan><tspan fill="#000"> = 1.44, </tspan><tspan fill="#0000ff">LongPds</tspan><tspan fill="#000"> = 1.49</tspan></text>
<rect x="10" y="418" width="71" height="14" fill="#fff"/>
<text x="10" y="429" textLength="66" lengthAdjust="spacing" xml:space="preserve"><tspan fill="#000">XPAY - Daily</tspan></text>
<rect x="79.2" y="418" width="351.8" height="14" fill="#fff"/>
<text x="79.2" y="429" textLength="346.8" lengthAdjust="spacing" xml:space="preserve"><tspan fill="#000">2025-10-09 Open 55.01,Hi 55.01,Lo 54.78, Close 54.92 (-0.2%)</tspan></text>
<rect x="10" y="432" width="251" height="14" fill="#fff"/>
<text x="10" y="443" textLength="250" lengthAdjust="spacing" xml:space="preserve"><tspan fill="#000">Vol 4,563,800 </tspan><tspan fill="#ff0000">graph8</tspan><tspan fill="#000"> = 56.01, </tspan><tspan fill="#009000">graph9</tspan><tspan fill="#000"> = 54.59</tspan></text>
<rect x="570" y="21" width="1" height="1" fill="#ff0000"/>
<rect x="571" y="21" width="142" height="1" fill="#ff0000"/>
<rect x="571" y="20" width="3" height="3" fill="#ff0000"/>
<rect x="575" y="20" width="6" height="3" fill="#ff0000"/>
<rect x="582" y="20" width="3" height="3" fill="#ff0000"/>
<rect x="586" y="20" width="6" height="3" fill="#ff0000"/>
<rect x="593" y="20" width="3" height="3" fill="#ff0000"/>
<rect x="597" y="20" width="6" height="3" fill="#ff0000"/>
<rect x="604" y="20" width="3" height="3" fill="#ff0000"/>
<rect x="608" y="20" width="6" height="3" fill="#ff0000"/>
<rect x="615" y="20" width="3" height="3" fill="#ff0000"/>
<rect x="619" y="20" width="6" height="3" fill="#ff0000"/>
<rect x="626" y="20" width="3" height="3" fill="#ff0000"/>
<rect x="630" y="20" width="6" height="3" fill="#ff0000"/>
<rect x="637" y="20" width="3" height="3" fill="#ff0000"/>
<rect x="641" y="20" width="6" height="3" fill="#ff0000"/>
<rect x="648" y="20" width="3" height="3" fill="#ff0000"/>
<rect x="652" y="20" width="6" height="3" fill="#ff0000"/>
<rect x="659" y="20" width="3" height="3" fill="#ff0000"/>
<rect x="663" y="20" width="6" height="3" fill="#ff0000"/>
<rect x="670" y="20" width="3" height="3" fill="#ff0000"/>
<rect x="674" y="20" width="6" height="3" fill="#ff0000"/>
<rect x="681" y="20" width="3" height="3" fill="#ff0000"/>
<rect x="685" y="20" width="6" height="3" fill="#ff0000"/>
<rect x="692" y="20" width="3" height="3" fill="#ff0000"/>
<rect x="696" y="20" width="6" height="3" fill="#ff0000"/>
<rect x="703" y="20" width="3" height="3" fill="#ff0000"/>
<rect x="707" y="20" width="6" height="3" fill="#ff0000"/>
</svg>
</body>
</html>
